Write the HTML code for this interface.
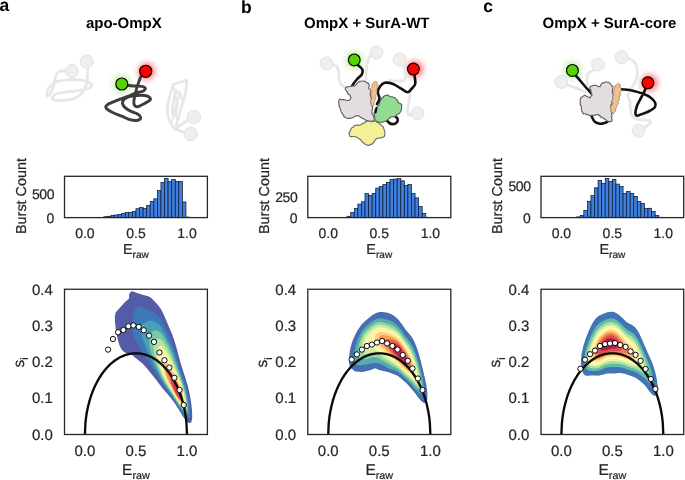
<!DOCTYPE html><html><head><meta charset="utf-8"><style>html,body{margin:0;padding:0;background:#fff}svg{display:block;will-change:transform;text-rendering:geometricPrecision} text.r{stroke:#262626;stroke-width:0.22px}</style></head><body>
<svg width="685" height="480" viewBox="0 0 685 480" font-family="'Liberation Sans', sans-serif">
<rect width="685" height="480" fill="#fff"/>
<defs>
<radialGradient id="gg"><stop offset="0" stop-color="#77dd33" stop-opacity="0.8"/><stop offset="0.5" stop-color="#aae888" stop-opacity="0.4"/><stop offset="1" stop-color="#e6f9dc" stop-opacity="0"/></radialGradient>
<radialGradient id="rg"><stop offset="0" stop-color="#ff2020" stop-opacity="0.9"/><stop offset="0.5" stop-color="#ff6060" stop-opacity="0.5"/><stop offset="1" stop-color="#ffd0d0" stop-opacity="0"/></radialGradient>
</defs>
<circle cx="121.8" cy="84.0" r="15" fill="url(#gg)"/>
<circle cx="146.5" cy="71.3" r="14" fill="url(#rg)"/>
<circle cx="354.25" cy="59.9" r="15" fill="url(#gg)"/>
<circle cx="414.9" cy="69.1" r="14" fill="url(#rg)"/>
<circle cx="572.4" cy="70.4" r="15" fill="url(#gg)"/>
<circle cx="649.4" cy="82.8" r="14" fill="url(#rg)"/>
<path d="M65.9,70.8C64.9,70.8 61.2,70.5 59.6,71.3C58.0,72.1 56.9,73.8 56.0,75.4C55.1,77.1 54.9,79.7 54.4,81.2C53.9,82.7 53.8,83.3 52.9,84.3C52.0,85.3 50.2,86.2 49.2,87.4C48.2,88.6 47.5,90.2 47.1,91.6C46.8,93.0 46.7,95.3 47.1,95.8C47.5,96.2 48.8,95.2 49.7,94.2C50.6,93.2 51.5,91.3 52.3,89.5C53.1,87.7 53.8,84.6 54.4,83.2C55.0,81.9 55.7,81.8 56.0,81.5" fill="none" stroke="#e7e7e7" stroke-width="2.8" stroke-linecap="round" stroke-linejoin="round"/>
<path d="M54.4,82.2C56.1,81.8 61.0,80.5 64.8,80.1C68.6,79.7 73.5,79.6 77.3,79.9C81.1,80.2 85.3,80.8 87.8,81.7C90.2,82.6 91.6,84.3 91.9,85.3C92.2,86.3 91.2,87.2 89.8,87.9C88.4,88.6 86.0,89.0 83.6,89.5C81.2,90.0 78.4,90.7 75.2,91.1C72.1,91.5 68.1,91.6 64.8,92.1C61.5,92.6 57.6,93.3 55.5,94.2C53.4,95.1 52.5,96.3 52.3,97.3C52.1,98.2 52.7,99.4 54.4,99.9C56.1,100.4 59.6,100.6 62.8,100.4C65.9,100.2 70.2,99.9 73.2,98.9C76.2,98.0 78.6,96.4 80.5,94.7C82.4,93.0 83.6,90.4 84.6,88.5C85.6,86.6 86.2,85.5 86.7,83.2C87.2,81.0 87.3,77.6 87.5,75.0C87.7,72.4 87.7,68.8 87.8,67.6" fill="none" stroke="#e7e7e7" stroke-width="2.8" stroke-linecap="round" stroke-linejoin="round"/>
<circle cx="71.9" cy="71.1" r="6.55" fill="#efefef" stroke="#e0e0e0" stroke-width="0.9"/>
<circle cx="86.7" cy="61.6" r="6.65" fill="#efefef" stroke="#e0e0e0" stroke-width="0.9"/>
<path d="M172.9,84.5C174.1,84.1 177.7,83.0 180.0,82.3C182.3,81.6 185.7,80.5 186.8,80.1" fill="none" stroke="#e7e7e7" stroke-width="2.8" stroke-linecap="round" stroke-linejoin="round"/>
<path d="M186.8,80.1C186.7,81.7 186.8,85.6 186.1,89.6C185.4,93.6 183.8,99.3 182.4,104.2C181.1,109.1 179.1,114.9 178.0,118.8C176.9,122.6 176.2,126.0 175.9,127.5" fill="none" stroke="#e7e7e7" stroke-width="2.8" stroke-linecap="round" stroke-linejoin="round"/>
<path d="M172.9,84.5C172.5,85.8 171.6,89.2 170.8,92.5C169.9,95.8 168.3,100.5 167.8,104.2C167.3,107.9 167.3,111.2 167.8,114.4C168.3,117.6 169.5,120.5 170.8,123.1C172.0,125.6 174.4,128.6 175.1,129.7" fill="none" stroke="#e7e7e7" stroke-width="2.8" stroke-linecap="round" stroke-linejoin="round"/>
<path d="M172.9,88.1C174.0,89.1 177.9,92.0 179.5,94.0C181.1,96.0 181.9,98.8 182.4,99.8" fill="none" stroke="#e7e7e7" stroke-width="2.8" stroke-linecap="round" stroke-linejoin="round"/>
<path d="M175.1,94.0C174.8,95.7 173.5,101.3 173.0,104.2C172.5,107.1 172.0,109.6 172.2,111.5C172.4,113.4 173.7,116.0 174.4,115.8C175.1,115.5 176.1,112.1 176.6,110.0C177.1,107.9 177.3,104.2 177.5,103.0" fill="none" stroke="#e7e7e7" stroke-width="2.8" stroke-linecap="round" stroke-linejoin="round"/>
<path d="M175.9,129.0C176.6,129.3 178.4,130.4 180.0,131.0C181.6,131.6 184.4,132.3 185.3,132.6" fill="none" stroke="#e7e7e7" stroke-width="2.8" stroke-linecap="round" stroke-linejoin="round"/>
<path d="M176.5,128.0C177.4,127.3 180.0,125.3 182.0,124.0C184.0,122.7 187.2,120.8 188.2,120.2" fill="none" stroke="#e7e7e7" stroke-width="2.8" stroke-linecap="round" stroke-linejoin="round"/>
<path d="M174.5,90.0C174.8,91.7 176.3,96.5 176.5,100.0C176.7,103.5 175.3,107.5 175.5,111.0C175.7,114.5 177.2,119.3 177.5,121.0" fill="none" stroke="#e7e7e7" stroke-width="1.8" stroke-linecap="round" stroke-linejoin="round"/>
<path d="M180.0,92.0C179.5,93.8 178.1,99.5 177.0,103.0C175.9,106.5 174.2,110.0 173.5,113.0C172.8,116.0 172.7,119.7 172.5,121.0" fill="none" stroke="#e7e7e7" stroke-width="1.8" stroke-linecap="round" stroke-linejoin="round"/>
<circle cx="193.8" cy="116.9" r="6.75" fill="#efefef" stroke="#e0e0e0" stroke-width="0.9"/>
<circle cx="190.7" cy="133.8" r="6.75" fill="#efefef" stroke="#e0e0e0" stroke-width="0.9"/>
<path d="M128.5,85.5C129.6,85.6 132.9,85.8 135.2,86.0C137.4,86.2 140.3,86.0 142.0,86.4C143.7,86.8 145.2,87.8 145.4,88.5C145.6,89.2 144.6,90.2 143.4,90.9C142.2,91.6 139.9,91.9 138.0,92.5C136.1,93.1 133.0,94.2 132.0,94.6" fill="none" stroke="#3d3d3d" stroke-width="2.9" stroke-linecap="round" stroke-linejoin="round"/>
<path d="M140.7,76.9C140.3,77.8 139.3,80.5 138.6,82.4C137.9,84.3 137.1,86.6 136.6,88.5C136.1,90.4 135.9,91.9 135.5,93.9C135.1,95.9 134.1,98.8 133.9,100.7C133.7,102.6 133.8,104.4 134.5,105.4C135.2,106.4 136.2,107.0 137.9,106.7C139.6,106.4 142.7,104.5 144.7,103.4C146.7,102.3 149.3,101.0 150.1,100.0C150.9,99.0 150.4,98.0 149.5,97.3C148.6,96.5 146.8,95.8 144.7,95.5C142.5,95.2 139.3,95.3 136.6,95.5C133.9,95.7 130.8,96.0 128.5,96.9C126.2,97.8 123.8,99.2 123.0,100.7C122.2,102.2 122.6,104.4 123.7,106.1C124.8,107.8 127.4,109.4 129.8,110.8C132.2,112.2 136.1,113.1 137.9,114.2C139.7,115.3 140.7,116.6 140.7,117.6C140.7,118.6 139.7,120.0 137.9,120.3C136.1,120.6 132.5,120.3 129.8,119.6C127.1,118.9 124.6,117.4 121.7,116.2C118.8,115.0 114.8,113.6 112.2,112.2C109.6,110.8 106.9,109.3 106.1,108.1C105.3,106.8 105.8,105.9 107.5,104.7C109.2,103.5 113.0,102.1 116.3,100.7C119.6,99.3 124.3,97.6 127.1,96.6C129.9,95.6 132.0,94.8 133.0,94.5" fill="none" stroke="#3d3d3d" stroke-width="2.9" stroke-linecap="round" stroke-linejoin="round"/>
<circle cx="121.8" cy="84.0" r="6.0" fill="#56d402" stroke="#000" stroke-width="1.2"/>
<circle cx="145.7" cy="71.3" r="6.05" fill="#ff0000" stroke="#000" stroke-width="1.2"/>
<path d="M333.0,65.1C333.6,65.3 335.8,65.2 336.8,66.4C337.7,67.6 338.2,69.8 338.6,72.0C339.0,74.2 338.8,77.4 339.2,79.5C339.7,81.6 340.2,83.2 341.1,84.5C342.0,85.8 344.3,86.6 344.9,87.0" fill="none" stroke="#e7e7e7" stroke-width="2.8" stroke-linecap="round" stroke-linejoin="round"/>
<path d="M370.5,55.8C370.1,56.6 368.7,58.9 368.0,60.8C367.3,62.6 366.8,64.8 366.5,67.0C366.2,69.2 366.1,71.8 366.0,74.0C365.9,76.2 366.0,79.0 366.0,80.0" fill="none" stroke="#e7e7e7" stroke-width="2.8" stroke-linecap="round" stroke-linejoin="round"/>
<path d="M403.5,65.3C403.9,66.9 405.8,72.2 405.8,74.7C405.8,77.2 405.2,79.4 403.5,80.5C401.8,81.6 397.6,81.1 395.3,81.1C393.0,81.1 390.5,80.6 389.5,80.5" fill="none" stroke="#e7e7e7" stroke-width="2.8" stroke-linecap="round" stroke-linejoin="round"/>
<path d="M410.3,93.2C410.1,94.5 409.4,98.1 409.0,100.7C408.6,103.3 407.9,106.7 407.8,109.0C407.7,111.3 407.6,113.8 408.2,114.8C408.9,115.8 411.4,114.8 412.0,114.8" fill="none" stroke="#e7e7e7" stroke-width="2.8" stroke-linecap="round" stroke-linejoin="round"/>
<circle cx="326.5" cy="63.5" r="6.55" fill="#efefef" stroke="#e0e0e0" stroke-width="0.9"/>
<circle cx="376.5" cy="52.6" r="6.55" fill="#efefef" stroke="#e0e0e0" stroke-width="0.9"/>
<circle cx="399.7" cy="59.5" r="6.65" fill="#efefef" stroke="#e0e0e0" stroke-width="0.9"/>
<circle cx="417.4" cy="113.2" r="6.45" fill="#efefef" stroke="#e0e0e0" stroke-width="0.9"/>
<path d="M358.0,65.1C358.7,65.8 361.8,67.9 362.4,69.5C363.0,71.1 362.7,72.8 361.8,74.5C360.8,76.2 358.2,77.8 356.8,79.5C355.3,81.2 353.9,83.1 353.0,84.5C352.1,85.9 351.8,87.4 351.5,88.0" fill="none" stroke="#111" stroke-width="2.6" stroke-linecap="round" stroke-linejoin="round"/>
<path d="M414.6,75.8C414.7,77.2 415.7,81.8 415.2,84.0C414.7,86.2 413.0,87.3 411.7,88.7C410.4,90.1 409.4,92.2 407.6,92.2C405.9,92.2 403.6,90.1 401.2,88.7C398.8,87.3 395.7,85.0 393.0,84.0C390.3,83.0 386.9,82.4 384.8,82.8C382.7,83.2 381.4,84.7 380.2,86.3C379.0,87.9 377.9,90.2 377.8,92.2C377.7,94.2 379.6,96.5 379.5,98.5C379.4,100.5 377.4,103.1 377.0,104.0" fill="none" stroke="#111" stroke-width="2.6" stroke-linecap="round" stroke-linejoin="round"/>
<path d="M387.0,120.6C387.5,121.1 388.9,122.9 390.0,123.5C391.1,124.1 392.6,124.2 393.8,124.0C395.0,123.8 396.5,122.9 397.1,122.0C397.7,121.1 397.8,119.6 397.6,118.7C397.4,117.8 396.0,117.1 395.7,116.8" fill="none" stroke="#111" stroke-width="2.6" stroke-linecap="round" stroke-linejoin="round"/>
<path d="M345.6,88.1L345.7,87.6L346.1,87.2L346.6,87.1L347.3,86.9L347.9,86.7L348.7,86.7L349.4,86.6L350.0,86.4L350.6,86.4L351.3,86.2L352.0,85.9L352.8,85.9L353.5,86.1L354.2,86.2L354.7,85.9L355.2,85.6L355.7,85.3L356.1,84.9L356.4,84.3L356.6,83.7L357.1,83.3L357.6,82.9L358.0,82.6L358.4,82.2L358.9,81.8L359.5,81.5L360.1,81.2L360.8,81.2L361.5,81.1L362.1,81.0L362.7,81.0L363.3,81.0L364.0,81.1L364.6,81.4L365.2,81.6L365.8,81.8L366.3,82.3L366.7,82.8L367.2,82.9L368.0,83.1L368.7,83.5L368.9,84.1L369.0,84.8L369.3,85.3L369.5,85.9L369.1,86.5L368.7,87.1L368.6,87.8L368.8,88.4L369.2,89.0L370.0,89.3L370.7,89.7L371.1,90.4L371.0,91.0L370.7,91.5L370.5,92.1L370.4,92.7L370.3,93.4L370.3,94.1L370.3,94.7L370.3,95.3L370.5,95.9L370.8,96.5L371.0,97.1L371.1,97.7L371.1,98.3L371.0,98.8L371.1,99.4L371.6,100.0L371.6,100.7L371.3,101.2L370.9,101.8L370.7,102.4L370.9,103.0L371.3,103.5L371.4,104.1L371.4,104.8L371.7,105.4L372.0,106.0L372.4,106.6L372.5,107.2L372.5,107.8L372.4,108.4L372.3,109.1L372.2,109.7L372.2,110.4L372.0,111.1L371.8,111.7L371.7,112.4L371.8,113.1L372.2,113.6L372.7,114.2L372.9,114.8L373.1,115.4L373.4,116.0L373.7,116.6L373.9,117.1L374.0,117.6L374.1,118.4L374.1,119.1L373.9,119.7L373.7,120.2L373.5,120.7L373.1,121.1L372.4,121.1L371.7,121.2L370.9,121.4L370.1,121.4L369.4,121.3L368.8,121.3L368.2,120.9L367.6,120.6L367.0,120.5L366.4,120.3L365.7,120.1L365.1,119.9L364.5,119.6L364.0,119.1L363.5,118.7L362.8,118.6L362.2,118.2L361.7,117.6L361.1,117.4L360.4,117.3L359.9,116.7L359.5,116.1L358.7,116.0L358.0,115.9L357.5,115.6L356.9,115.5L356.4,115.8L355.8,116.0L355.1,116.1L354.5,116.5L354.0,117.0L353.4,117.4L352.7,117.7L352.1,117.8L351.4,118.0L350.8,118.3L350.1,118.4L349.4,118.4L348.7,118.4L348.1,118.5L347.5,118.5L346.9,118.3L346.4,118.0L345.8,117.7L345.3,117.3L344.5,117.1L343.9,116.7L343.8,115.9L343.7,115.2L343.1,114.8L342.6,114.4L342.2,113.8L342.0,113.2L341.7,112.6L341.3,112.0L341.0,111.4L340.8,110.8L340.7,110.2L340.5,109.6L340.3,109.0L340.1,108.4L339.9,107.8L339.8,107.2L339.6,106.6L339.0,106.1L338.9,105.5L339.2,104.7L339.2,103.9L338.8,103.2L338.5,102.6L338.6,101.9L338.7,101.4L338.7,100.9L338.9,100.3L339.3,99.7L339.9,99.3L340.7,99.4L341.2,99.6L341.8,99.7L342.6,99.5L343.3,99.6L344.0,99.8L344.7,99.9L345.4,100.0L346.0,100.1L346.7,100.2L347.4,100.4L348.0,100.6L348.7,100.5L349.2,100.1L349.5,99.8L350.1,99.5L350.6,98.9L350.8,98.2L350.9,97.4L350.7,96.7L350.5,96.2L350.2,95.6L349.9,95.0L349.2,94.7L348.5,94.4L348.1,93.9L347.8,93.3L347.6,92.6L347.4,91.9L346.8,91.5L346.4,91.1L346.1,90.4L345.6,89.8L345.2,89.1L345.4,88.4Z" fill="#e3dedd" stroke="#5c5c5c" stroke-width="1.1" stroke-linejoin="round"/>
<path d="M349.5,132.7L349.5,132.3L349.7,131.8L350.1,131.3L350.2,130.6L350.5,129.9L351.0,129.3L351.2,128.6L351.5,128.0L352.0,127.7L352.7,127.5L353.3,127.2L353.5,126.5L353.9,126.0L354.4,125.7L355.0,125.4L355.5,125.3L356.1,125.2L356.8,125.1L357.4,125.0L358.1,125.1L358.8,125.3L359.4,125.3L360.0,125.1L360.5,124.9L361.1,124.7L361.5,124.3L362.0,123.8L362.5,123.4L363.1,123.2L363.8,123.1L364.3,122.8L364.7,122.2L365.2,121.9L365.9,121.9L366.5,121.7L367.0,121.4L367.5,121.0L368.1,121.0L368.7,121.1L369.4,121.2L370.1,121.2L370.8,121.3L371.4,121.7L372.0,121.8L372.7,121.5L373.3,121.4L373.9,121.1L374.5,120.9L375.1,121.0L375.7,121.2L376.2,121.3L376.8,121.5L377.3,122.0L377.7,122.5L378.2,122.9L378.8,123.3L379.3,123.7L379.9,124.1L380.4,124.3L380.9,124.8L381.3,125.3L381.7,125.7L382.2,126.1L382.8,126.4L383.1,126.9L383.4,127.4L383.8,128.0L383.8,128.7L384.0,129.4L384.3,130.0L384.5,130.7L384.7,131.3L384.9,132.0L384.8,132.7L384.8,133.4L385.0,134.1L384.8,134.8L384.6,135.4L384.5,136.1L384.2,136.6L383.5,136.9L382.9,137.1L382.2,137.3L381.6,137.7L380.9,138.0L380.2,137.8L379.6,137.9L379.0,138.1L378.3,138.2L377.7,138.2L377.0,138.3L376.4,138.6L376.0,139.0L375.8,139.6L375.3,140.0L374.9,140.4L374.5,141.0L374.2,141.6L374.0,142.2L373.5,142.5L373.0,143.0L372.6,143.6L372.1,144.1L371.4,144.3L370.8,144.4L370.3,144.6L369.9,145.1L369.3,145.4L368.7,145.4L368.0,145.3L367.3,145.1L366.7,145.0L366.1,144.7L365.6,144.4L365.0,144.1L364.4,143.8L364.0,143.3L363.6,142.7L362.9,142.6L362.4,142.3L362.1,141.7L361.7,141.2L361.3,140.7L361.0,140.2L360.6,139.7L360.1,139.4L359.5,139.1L359.0,138.7L358.5,138.4L358.0,138.0L357.5,137.7L356.9,137.4L356.4,137.1L355.8,136.8L355.1,136.8L354.4,136.8L353.7,136.6L353.1,136.4L352.5,136.6L351.7,136.6L351.0,136.5L350.4,136.6L349.9,136.2L349.8,135.5L349.5,134.8L349.1,134.1L348.9,133.5L349.0,133.3Z" fill="#f4f098" stroke="#666666" stroke-width="1.1" stroke-linejoin="round"/>
<path d="M382.5,97.8L382.9,97.4L383.3,96.7L383.8,96.2L384.4,95.9L385.1,95.7L385.8,95.4L386.4,95.2L387.0,95.1L387.7,95.0L388.4,95.2L388.9,95.7L389.4,96.2L390.1,96.6L390.9,96.7L391.5,96.7L392.1,96.8L392.8,97.0L393.4,97.3L394.1,97.5L394.7,97.6L395.2,98.2L395.6,98.7L396.1,98.9L396.7,99.2L397.0,99.8L397.3,100.4L397.6,100.9L398.0,101.4L398.3,101.9L398.4,102.6L398.9,103.1L399.7,103.3L400.4,103.6L400.9,104.0L401.5,104.5L401.8,105.2L401.7,105.9L401.5,106.5L401.6,107.2L401.7,108.0L401.4,108.7L401.3,109.4L401.3,110.1L401.0,110.7L400.7,111.3L400.3,111.9L400.0,112.5L399.7,113.1L399.1,113.5L398.5,113.8L398.0,114.1L397.4,114.5L396.9,114.8L396.4,115.2L395.9,115.7L395.4,116.1L394.8,116.5L394.3,116.8L393.6,116.9L392.9,116.7L392.2,116.7L391.6,116.9L391.0,117.1L390.5,117.4L390.0,117.7L389.4,118.1L389.0,118.7L388.3,119.1L387.8,119.5L387.5,120.1L387.0,120.6L386.3,120.8L385.7,121.0L385.1,121.3L384.5,121.5L383.9,121.7L383.2,122.0L382.6,122.2L382.0,122.2L381.4,122.3L380.7,122.3L380.1,122.2L379.5,122.3L378.9,122.1L378.5,121.8L377.8,121.8L377.1,121.8L376.4,121.6L376.0,121.0L375.7,120.3L375.3,119.7L375.1,119.2L375.0,118.6L374.8,117.9L374.6,117.2L374.5,116.5L374.2,115.9L374.2,115.2L374.5,114.5L374.3,113.9L374.0,113.2L374.2,112.6L374.5,112.0L374.7,111.5L374.8,110.8L374.9,110.2L375.1,109.6L375.6,109.1L375.9,108.5L376.2,107.9L376.6,107.3L377.1,106.9L377.6,106.4L378.0,105.8L378.5,105.3L378.9,104.8L379.1,104.2L379.3,103.6L379.6,103.1L379.8,102.5L380.0,101.9L380.1,101.3L380.3,100.7L380.7,100.2L381.1,99.7L381.3,99.1L381.5,98.6L381.9,98.1Z" fill="#92dc92" stroke="#5a5a5a" stroke-width="1.1" stroke-linejoin="round"/>
<path d="M371.3,88.4L371.6,87.8L371.7,87.2L371.9,86.5L371.9,85.8L371.7,85.1L372.1,84.6L372.7,84.2L372.8,83.6L372.9,83.1L373.5,82.5L374.1,82.1L374.6,81.9L375.1,81.6L375.9,81.5L376.7,81.9L377.1,82.8L377.0,83.3L377.2,83.7L377.7,84.2L377.9,84.9L377.8,85.6L377.8,86.3L377.6,86.9L377.1,87.4L376.8,88.0L376.9,88.7L377.0,89.4L376.9,90.1L377.0,90.9L377.0,91.5L376.6,92.1L376.8,92.8L377.2,93.5L376.9,94.2L376.0,94.7L375.6,95.3L375.8,96.0L376.0,96.7L375.9,97.3L375.9,98.0L375.8,98.6L375.7,99.3L375.5,99.8L375.0,100.4L374.8,100.9L374.6,101.4L374.4,101.9L374.2,102.7L374.0,103.4L374.0,104.1L374.3,104.8L373.9,105.3L373.6,105.7L372.9,106.1L372.1,106.2L371.3,105.8L371.1,105.2L371.0,104.5L370.9,103.7L371.1,103.0L370.9,102.6L370.6,101.9L370.7,101.3L370.9,100.7L371.2,100.1L371.5,99.5L371.5,98.8L371.7,98.2L372.1,97.5L371.9,96.8L371.6,96.2L371.5,95.5L371.3,94.9L371.1,94.2L370.9,93.6L370.7,92.9L371.1,92.3L371.2,91.7L371.0,91.0L370.8,90.3L370.7,89.6L370.7,88.9Z" fill="#f0c090" stroke="#8a7060" stroke-width="0.6" stroke-linejoin="round"/>
<path d="M376.5,108.0C376.3,108.8 375.7,111.8 375.5,112.5" fill="none" stroke="#111" stroke-width="2.2" stroke-linecap="round" stroke-linejoin="round"/>
<circle cx="354.25" cy="59.9" r="5.9" fill="#56d402" stroke="#000" stroke-width="1.2"/>
<circle cx="413.4" cy="69.1" r="5.9" fill="#ff0000" stroke="#000" stroke-width="1.2"/>
<path d="M566.8,85.1C567.6,85.3 570.1,85.9 572.0,86.5C573.9,87.1 575.8,88.0 578.0,88.9C580.2,89.8 584.2,91.5 585.5,92.0" fill="none" stroke="#e7e7e7" stroke-width="2.8" stroke-linecap="round" stroke-linejoin="round"/>
<path d="M593.0,70.8C592.3,71.1 589.6,71.3 588.6,72.6C587.6,73.8 587.0,76.3 586.8,78.2C586.5,80.2 587.3,83.5 587.4,84.5" fill="none" stroke="#e7e7e7" stroke-width="2.8" stroke-linecap="round" stroke-linejoin="round"/>
<path d="M627.6,57.8C628.6,58.4 632.3,59.9 633.9,61.5C635.5,63.1 636.5,65.3 637.0,67.7C637.5,70.1 637.4,73.4 637.0,76.0C636.6,78.6 635.4,81.0 634.4,83.3C633.4,85.6 631.9,87.5 630.8,89.6C629.6,91.7 627.8,94.1 627.6,95.8C627.4,97.5 629.3,97.9 629.7,99.6C630.1,101.3 629.9,103.2 630.2,105.8C630.6,108.4 630.5,112.9 631.8,115.2C633.1,117.5 635.6,118.6 638.0,119.4C640.4,120.2 644.3,119.6 646.4,119.9C648.5,120.2 650.1,120.7 650.5,121.5C650.9,122.3 649.7,123.6 648.5,124.6C647.3,125.6 644.1,127.2 643.2,127.7" fill="none" stroke="#e7e7e7" stroke-width="2.8" stroke-linecap="round" stroke-linejoin="round"/>
<circle cx="561.1" cy="82.0" r="6.45" fill="#efefef" stroke="#e0e0e0" stroke-width="0.9"/>
<circle cx="598.0" cy="64.5" r="6.45" fill="#efefef" stroke="#e0e0e0" stroke-width="0.9"/>
<circle cx="621.6" cy="57.3" r="6.55" fill="#efefef" stroke="#e0e0e0" stroke-width="0.9"/>
<circle cx="638.6" cy="130.8" r="6.45" fill="#efefef" stroke="#e0e0e0" stroke-width="0.9"/>
<path d="M576.1,75.8C577.2,77.1 580.5,81.1 583.0,84.0C585.5,86.9 589.8,91.7 591.1,93.2" fill="none" stroke="#111" stroke-width="2.6" stroke-linecap="round" stroke-linejoin="round"/>
<path d="M591.7,116.5C592.2,117.4 593.4,120.5 594.8,121.8C596.2,123.0 598.3,123.6 600.0,123.8C601.7,124.0 603.8,123.2 605.2,122.8C606.6,122.4 607.8,121.5 608.3,121.2" fill="none" stroke="#111" stroke-width="2.6" stroke-linecap="round" stroke-linejoin="round"/>
<path d="M590.7,86.4L591.1,86.2L591.7,86.2L592.2,85.7L592.8,85.6L593.5,85.6L594.2,85.2L594.8,85.1L595.4,85.4L596.1,85.5L596.8,85.7L597.4,86.2L597.9,86.7L598.5,86.8L598.9,86.5L599.4,86.5L600.2,86.6L600.7,86.0L600.7,85.2L601.1,84.6L601.4,83.9L601.8,83.4L602.4,83.0L603.2,82.9L603.9,82.9L604.5,82.7L605.0,82.2L605.6,82.0L606.2,81.9L606.8,82.1L607.5,82.3L608.1,82.3L608.8,82.6L609.3,82.9L609.9,83.3L610.4,83.8L610.7,84.3L611.1,84.8L611.5,85.3L611.9,85.8L612.5,86.2L612.9,86.7L613.0,87.4L612.9,88.0L612.8,88.6L612.5,89.2L612.4,89.9L612.5,90.6L612.6,91.3L612.4,92.0L612.1,92.6L612.5,93.3L613.1,93.7L613.3,94.3L613.2,94.9L613.2,95.6L613.1,96.2L612.9,96.7L613.0,97.2L613.3,97.8L613.1,98.4L612.8,99.0L612.8,99.6L612.7,100.3L612.3,100.8L612.0,101.4L611.7,101.9L612.0,102.7L612.2,103.5L611.8,104.1L611.5,104.6L610.8,105.2L610.4,105.8L611.0,106.6L611.4,107.2L611.3,107.8L611.0,108.5L611.2,109.1L611.6,109.7L611.5,110.5L611.3,111.2L611.5,111.8L611.7,112.4L611.6,113.1L611.5,113.7L611.6,114.4L611.9,115.1L611.9,115.8L611.9,116.5L611.7,117.1L611.4,117.6L611.6,118.4L611.9,119.0L612.2,119.6L612.2,120.2L611.9,120.7L611.7,121.2L611.0,121.6L610.2,121.6L609.4,121.5L609.0,121.4L608.3,121.5L607.6,121.4L607.1,120.8L606.6,120.2L605.9,119.9L605.3,119.5L604.9,119.1L604.2,118.9L603.7,118.5L603.2,118.1L602.6,117.7L602.2,117.2L601.4,117.1L600.6,117.1L600.2,116.7L600.1,115.7L599.6,115.3L598.8,115.4L598.3,115.1L597.9,114.5L597.2,114.5L596.4,114.8L595.8,115.1L595.3,115.2L594.7,115.0L594.1,115.1L593.6,115.5L592.9,115.5L592.2,115.2L591.5,115.3L590.9,115.6L590.3,115.7L589.6,115.6L589.0,115.2L588.6,114.7L587.9,114.6L587.2,114.8L586.6,114.7L586.1,114.3L585.6,114.0L585.1,113.8L584.4,113.8L583.6,113.9L583.0,113.6L582.9,113.0L582.7,112.4L582.2,112.0L581.8,111.5L581.7,110.8L582.0,110.1L581.7,109.4L581.3,108.9L581.3,108.2L581.3,107.6L581.4,106.9L581.4,106.2L580.8,105.7L580.2,105.1L580.2,104.5L580.2,103.8L580.3,103.2L580.4,102.6L580.2,102.0L580.2,101.3L580.2,100.6L580.3,100.0L580.4,99.4L580.4,98.7L580.5,98.1L580.9,97.7L581.3,97.3L581.9,97.1L582.4,96.8L582.9,96.4L583.5,96.0L584.1,95.5L584.7,95.3L585.4,95.6L586.0,95.9L586.6,96.2L587.3,96.5L588.0,96.9L588.7,97.3L589.2,97.4L589.6,97.7L590.2,97.7L590.6,97.1L590.8,96.4L591.3,95.8L591.8,95.2L592.1,94.7L592.0,94.1L591.5,93.6L591.2,93.0L591.2,92.3L591.0,91.7L590.8,91.1L590.9,90.5L590.8,89.8L590.5,89.2L590.0,88.5L589.8,87.9L589.8,87.2L590.3,86.7Z" fill="#e3dedd" stroke="#5c5c5c" stroke-width="1.1" stroke-linejoin="round"/>
<path d="M621.9,89.2C623.7,89.5 629.2,89.9 632.8,90.7C636.4,91.5 640.3,92.7 643.2,93.8C646.2,95.0 648.5,96.0 650.5,97.5C652.5,99.0 654.5,101.0 655.2,102.7C655.9,104.4 655.7,106.0 654.7,107.4C653.8,108.8 651.4,110.0 649.5,111.0C647.6,112.0 645.3,112.8 643.2,113.6C641.2,114.4 638.3,115.8 637.0,115.7C635.7,115.6 635.4,114.8 635.4,113.1C635.4,111.4 636.2,108.0 637.0,105.8C637.8,103.5 639.1,101.6 640.1,99.6C641.1,97.6 642.4,95.6 643.2,93.8C644.1,92.1 644.7,90.8 645.3,89.2C645.9,87.6 646.7,84.9 647.0,84.0" fill="none" stroke="#111" stroke-width="2.6" stroke-linecap="round" stroke-linejoin="round"/>
<path d="M616.2,85.0L616.9,84.9L617.4,84.5L617.9,83.5L618.6,83.2L619.3,84.3L619.7,84.6L620.3,84.6L620.4,85.3L620.3,86.0L620.1,86.7L620.6,87.5L621.1,87.9L620.9,88.4L621.0,89.0L621.1,89.7L621.1,90.4L621.0,91.0L620.6,91.7L620.3,92.3L620.1,92.9L620.1,93.5L620.7,94.3L620.6,95.0L620.2,95.6L620.0,96.2L619.3,96.7L619.1,97.3L619.2,98.1L619.1,98.8L619.4,99.5L619.3,100.2L618.4,100.6L617.9,101.1L618.0,101.9L618.4,102.7L618.7,103.6L618.4,104.1L617.7,104.6L616.9,104.9L616.5,105.5L616.8,106.4L616.7,107.0L616.1,107.5L616.2,108.1L616.1,108.8L615.6,109.2L615.5,110.0L615.7,110.8L615.3,111.5L614.5,112.0L614.0,112.5L613.9,113.1L613.8,113.6L612.9,113.9L612.6,113.3L612.5,113.3L611.8,113.6L611.7,113.1L611.9,112.5L611.4,111.9L610.9,111.3L611.0,110.6L611.4,109.9L611.1,109.3L610.9,108.6L610.9,108.0L610.4,107.2L610.3,106.5L611.2,106.0L612.0,105.4L612.3,104.8L612.8,104.2L613.0,103.6L612.4,102.8L612.1,102.0L612.0,101.3L612.0,100.6L612.5,100.0L612.9,99.4L613.3,98.8L613.1,98.2L612.6,97.5L612.9,96.8L613.2,96.2L613.4,95.6L613.2,94.9L613.0,94.2L613.2,93.6L613.2,92.9L613.3,92.3L613.2,91.5L613.2,90.9L613.9,90.3L614.6,89.8L614.4,89.1L614.4,88.5L614.9,88.0L614.8,87.2L614.7,86.3L615.0,85.6L615.6,85.3Z" fill="#f0c090" stroke="#8a7060" stroke-width="0.7" stroke-linejoin="round"/>
<circle cx="572.4" cy="70.4" r="5.9" fill="#56d402" stroke="#000" stroke-width="1.2"/>
<circle cx="647.9" cy="82.8" r="5.9" fill="#ff0000" stroke="#000" stroke-width="1.2"/>
<text x="-0.6" y="11.0" font-size="17.5" font-weight="bold" fill="#000">a</text>
<text x="123.80" y="28.20" font-size="15" text-anchor="middle" font-weight="bold" fill="#000" >apo-OmpX</text>
<g fill="#3f7fe0" stroke="#0d1a33" stroke-width="0.75"><rect x="103.80" y="216.75" width="3.57" height="0.85"/><rect x="107.37" y="216.30" width="3.57" height="1.30"/><rect x="110.94" y="215.40" width="3.57" height="2.20"/><rect x="114.52" y="215.00" width="3.57" height="2.60"/><rect x="118.09" y="214.40" width="3.57" height="3.20"/><rect x="121.66" y="213.50" width="3.57" height="4.10"/><rect x="125.23" y="212.60" width="3.57" height="5.00"/><rect x="128.81" y="212.60" width="3.57" height="5.00"/><rect x="132.38" y="211.60" width="3.57" height="6.00"/><rect x="135.95" y="208.70" width="3.57" height="8.90"/><rect x="139.52" y="207.60" width="3.57" height="10.00"/><rect x="143.09" y="208.60" width="3.57" height="9.00"/><rect x="146.67" y="205.30" width="3.57" height="12.30"/><rect x="150.24" y="201.40" width="3.57" height="16.20"/><rect x="153.81" y="198.80" width="3.57" height="18.80"/><rect x="157.38" y="190.60" width="3.57" height="27.00"/><rect x="160.96" y="182.50" width="3.57" height="35.10"/><rect x="164.53" y="178.30" width="3.57" height="39.30"/><rect x="168.10" y="181.70" width="3.57" height="35.90"/><rect x="171.68" y="179.40" width="3.57" height="38.20"/><rect x="175.25" y="181.50" width="3.57" height="36.10"/><rect x="178.82" y="181.50" width="3.57" height="36.10"/><rect x="182.39" y="202.00" width="3.57" height="15.60"/><rect x="185.97" y="217.10" width="3.57" height="0.50"/></g>
<rect x="64.50" y="176.30" width="142.90" height="41.30" fill="none" stroke="#262626" stroke-width="1.3"/>
<text class="r" x="54.30" y="222.70" font-size="14" text-anchor="end" font-weight="normal" fill="#262626" >0</text>
<text class="r" x="54.10" y="199.20" font-size="14" text-anchor="end" font-weight="normal" fill="#262626" letter-spacing="-0.4">500</text>
<text class="r" x="84.91" y="237.70" font-size="14" text-anchor="middle" font-weight="normal" fill="#262626" >0.0</text>
<text class="r" x="135.95" y="237.70" font-size="14" text-anchor="middle" font-weight="normal" fill="#262626" >0.5</text>
<text class="r" x="186.99" y="237.70" font-size="14" text-anchor="middle" font-weight="normal" fill="#262626" >1.0</text>
<text class="r" x="123.01" y="253.70" font-size="14.4" fill="#262626">E<tspan font-size="10.1" dy="4.5">raw</tspan></text>
<text class="r" transform="translate(25.60,196.0) rotate(-90)" font-size="14.4" text-anchor="middle" fill="#262626">Burst Count</text>
<text x="241.0" y="12.7" font-size="17.5" font-weight="bold" fill="#000">b</text>
<text x="366.80" y="28.20" font-size="15" text-anchor="middle" font-weight="bold" fill="#000" >OmpX + SurA-WT</text>
<g fill="#3f7fe0" stroke="#0d1a33" stroke-width="0.75"><rect x="347.12" y="216.30" width="3.58" height="1.30"/><rect x="350.70" y="212.60" width="3.58" height="5.00"/><rect x="354.28" y="208.60" width="3.58" height="9.00"/><rect x="357.85" y="204.10" width="3.58" height="13.50"/><rect x="361.43" y="201.80" width="3.58" height="15.80"/><rect x="365.00" y="193.60" width="3.58" height="24.00"/><rect x="368.58" y="195.60" width="3.58" height="22.00"/><rect x="372.15" y="193.40" width="3.58" height="24.20"/><rect x="375.73" y="188.10" width="3.58" height="29.50"/><rect x="379.30" y="186.60" width="3.58" height="31.00"/><rect x="382.88" y="184.60" width="3.58" height="33.00"/><rect x="386.45" y="182.40" width="3.58" height="35.20"/><rect x="390.03" y="179.60" width="3.58" height="38.00"/><rect x="393.60" y="179.10" width="3.58" height="38.50"/><rect x="397.18" y="178.60" width="3.58" height="39.00"/><rect x="400.75" y="180.80" width="3.58" height="36.80"/><rect x="404.33" y="185.60" width="3.58" height="32.00"/><rect x="407.90" y="184.60" width="3.58" height="33.00"/><rect x="411.48" y="193.60" width="3.58" height="24.00"/><rect x="415.05" y="197.90" width="3.58" height="19.70"/><rect x="418.62" y="206.60" width="3.58" height="11.00"/><rect x="422.20" y="213.40" width="3.58" height="4.20"/><rect x="425.78" y="217.30" width="3.58" height="0.30"/></g>
<rect x="307.80" y="176.30" width="143.00" height="41.30" fill="none" stroke="#262626" stroke-width="1.3"/>
<text class="r" x="297.60" y="222.80" font-size="14" text-anchor="end" font-weight="normal" fill="#262626" >0</text>
<text class="r" x="297.40" y="201.50" font-size="14" text-anchor="end" font-weight="normal" fill="#262626" letter-spacing="-0.4">250</text>
<text class="r" x="328.23" y="237.70" font-size="14" text-anchor="middle" font-weight="normal" fill="#262626" >0.0</text>
<text class="r" x="379.30" y="237.70" font-size="14" text-anchor="middle" font-weight="normal" fill="#262626" >0.5</text>
<text class="r" x="430.37" y="237.70" font-size="14" text-anchor="middle" font-weight="normal" fill="#262626" >1.0</text>
<text class="r" x="366.36" y="253.70" font-size="14.4" fill="#262626">E<tspan font-size="10.1" dy="4.5">raw</tspan></text>
<text class="r" transform="translate(268.90,196.0) rotate(-90)" font-size="14.4" text-anchor="middle" fill="#262626">Burst Count</text>
<text x="483.2" y="11.6" font-size="17.5" font-weight="bold" fill="#000">c</text>
<text x="609.50" y="28.20" font-size="15" text-anchor="middle" font-weight="bold" fill="#000" >OmpX + SurA-core</text>
<g fill="#3f7fe0" stroke="#0d1a33" stroke-width="0.75"><rect x="576.67" y="216.90" width="3.57" height="0.70"/><rect x="580.24" y="215.40" width="3.57" height="2.20"/><rect x="583.81" y="210.40" width="3.57" height="7.20"/><rect x="587.38" y="201.30" width="3.57" height="16.30"/><rect x="590.95" y="195.60" width="3.57" height="22.00"/><rect x="594.51" y="187.80" width="3.57" height="29.80"/><rect x="598.08" y="180.60" width="3.57" height="37.00"/><rect x="601.65" y="183.40" width="3.57" height="34.20"/><rect x="605.22" y="178.60" width="3.57" height="39.00"/><rect x="608.78" y="181.40" width="3.57" height="36.20"/><rect x="612.35" y="179.60" width="3.57" height="38.00"/><rect x="615.92" y="184.10" width="3.57" height="33.50"/><rect x="619.49" y="186.60" width="3.57" height="31.00"/><rect x="623.05" y="193.60" width="3.57" height="24.00"/><rect x="626.62" y="191.60" width="3.57" height="26.00"/><rect x="630.19" y="193.60" width="3.57" height="24.00"/><rect x="633.75" y="196.40" width="3.57" height="21.20"/><rect x="637.32" y="201.60" width="3.57" height="16.00"/><rect x="640.89" y="203.40" width="3.57" height="14.20"/><rect x="644.46" y="208.60" width="3.57" height="9.00"/><rect x="648.02" y="208.30" width="3.57" height="9.30"/><rect x="651.59" y="211.60" width="3.57" height="6.00"/><rect x="655.16" y="215.60" width="3.57" height="2.00"/><rect x="658.73" y="217.30" width="3.57" height="0.30"/></g>
<rect x="541.00" y="176.30" width="142.70" height="41.30" fill="none" stroke="#262626" stroke-width="1.3"/>
<text class="r" x="530.80" y="222.80" font-size="14" text-anchor="end" font-weight="normal" fill="#262626" >0</text>
<text class="r" x="530.60" y="191.30" font-size="14" text-anchor="end" font-weight="normal" fill="#262626" letter-spacing="-0.4">500</text>
<text class="r" x="561.39" y="237.70" font-size="14" text-anchor="middle" font-weight="normal" fill="#262626" >0.0</text>
<text class="r" x="612.35" y="237.70" font-size="14" text-anchor="middle" font-weight="normal" fill="#262626" >0.5</text>
<text class="r" x="663.31" y="237.70" font-size="14" text-anchor="middle" font-weight="normal" fill="#262626" >1.0</text>
<text class="r" x="599.41" y="253.70" font-size="14.4" fill="#262626">E<tspan font-size="10.1" dy="4.5">raw</tspan></text>
<text class="r" transform="translate(502.10,196.0) rotate(-90)" font-size="14.4" text-anchor="middle" fill="#262626">Burst Count</text>
<clipPath id="clip0"><polygon points="131.6,290.9 136.25,292.8 142.5,294.7 150.5,296.8 156,289.25 207.4,289.25 207.4,434.5 64.5,434.5 64.5,345 114.6,334 114.5,317.5 115.8,312.2 121,306.6 124.8,302.2 129.1,298.5 129.1,293.5"/></clipPath>
<g clip-path="url(#clip0)"><path fill="#545ca8" fill-rule="evenodd" d="M189.4,423.0L190.3,422.9L191.1,422.2L191.5,421.5L191.7,420.7L191.9,420.0L192.0,419.2L192.1,418.5L192.1,417.8L192.2,417.1L192.2,416.3L192.2,415.6L192.2,414.9L192.2,414.2L192.1,413.4L192.1,412.7L192.1,412.0L192.0,411.3L192.0,410.5L191.9,409.8L191.8,409.1L191.8,408.4L191.7,407.6L191.6,406.9L191.5,406.2L191.5,405.4L191.4,404.7L191.3,404.0L191.2,403.3L191.1,402.5L191.0,401.8L190.9,401.1L190.8,400.4L190.7,399.8L190.5,398.9L190.4,398.2L190.3,397.5L190.2,396.7L190.0,396.0L189.9,395.3L189.7,394.6L189.6,393.8L189.4,393.1L189.3,392.4L189.1,391.7L189.0,390.9L188.8,390.2L188.6,389.5L188.5,388.7L188.3,388.0L188.1,387.3L187.9,386.6L187.7,385.8L187.5,385.1L187.3,384.4L187.1,383.7L186.9,382.9L186.7,382.2L186.5,381.5L186.2,380.8L186.0,380.0L185.8,379.3L185.6,378.6L185.4,377.9L185.1,377.1L184.9,376.6L184.6,375.7L184.4,374.9L184.2,374.2L183.9,373.5L183.7,372.9L183.5,372.0L183.2,371.3L183.0,370.6L182.8,369.9L182.5,369.1L182.3,368.4L182.1,367.8L181.8,367.0L181.7,366.5L181.4,365.5L181.2,364.8L181.0,364.1L180.7,363.3L180.5,362.6L180.3,361.9L180.1,361.1L179.9,360.4L179.7,359.7L179.5,359.0L179.3,358.2L179.1,357.5L178.9,356.8L178.7,356.1L178.5,355.3L178.3,354.6L178.1,353.9L177.9,353.2L177.7,352.4L177.6,351.9L177.4,351.0L177.2,350.4L177.0,349.5L176.8,348.9L176.6,348.1L176.4,347.4L176.2,346.6L176.0,346.0L175.7,345.2L175.6,344.6L175.3,343.7L175.1,343.2L174.9,342.3L174.6,341.5L174.4,340.8L174.2,340.1L173.9,339.4L173.7,338.6L173.4,337.9L173.2,337.2L172.9,336.5L172.7,335.9L172.4,335.0L172.1,334.3L171.9,333.8L171.5,332.8L171.2,332.1L170.9,331.4L170.7,330.8L170.3,329.9L170.0,329.2L169.7,328.5L169.4,327.9L169.0,327.0L168.7,326.3L168.4,325.6L168.2,325.1L167.8,324.1L167.5,323.4L167.2,322.7L166.9,321.9L166.6,321.2L166.3,320.5L166.0,319.8L165.8,319.3L165.3,318.3L165.0,317.6L164.7,316.8L164.4,316.1L164.1,315.5L163.8,314.7L163.4,313.9L163.1,313.2L162.7,312.5L162.5,312.0L162.1,311.2L161.7,310.4L161.3,309.7L160.9,309.0L160.4,308.4L160.0,307.8L159.6,307.2L159.2,306.7L158.8,306.1L158.4,305.6L158.1,305.2L157.6,304.7L157.2,304.2L156.8,303.8L156.4,303.3L156.0,302.9L155.5,302.4L155.1,302.0L154.8,301.6L154.3,301.1L153.9,300.7L153.5,300.2L153.1,299.8L152.7,299.4L152.3,299.0L151.9,298.6L151.5,298.3L151.1,297.9L150.6,297.6L150.2,297.3L149.4,296.8L148.6,296.3L147.8,295.9L147.0,295.5L146.2,295.1L145.3,294.7L144.7,294.3L144.1,294.0L143.6,293.6L142.9,293.1L142.5,292.8L142.1,292.4L141.7,292.1L141.3,291.7L140.8,291.3L140.4,291.0L140.0,290.6L139.6,290.3L139.2,290.0L138.8,289.7L138.2,289.2L137.6,288.9L136.8,288.5L136.0,288.4L135.1,288.4L134.5,288.5L133.9,288.8L133.1,289.2L132.7,289.6L132.3,290.0L131.9,290.4L131.5,290.9L131.1,291.4L130.6,292.0L130.2,292.5L129.8,293.1L129.5,293.6L129.0,294.3L128.6,295.0L128.2,295.7L127.8,296.3L127.4,297.0L127.0,297.6L126.6,298.3L126.3,298.7L125.8,299.4L125.3,300.1L124.9,300.7L124.5,301.3L124.1,301.8L123.7,302.3L123.3,302.7L122.9,303.1L122.5,303.4L121.8,303.8L121.3,303.9L120.4,304.0L119.6,303.8L118.8,303.6L118.0,303.2L117.2,302.8L116.4,302.4L115.5,302.2L115.0,302.3L114.4,303.0L114.2,303.8L114.1,304.5L114.0,305.2L114.0,306.0L114.0,306.7L114.0,307.4L114.0,308.1L114.0,308.9L114.0,309.6L114.0,310.3L114.1,311.0L114.1,311.8L114.2,312.5L114.2,313.2L114.2,313.9L114.3,314.7L114.4,315.4L114.4,316.1L114.5,316.8L114.5,317.6L114.6,318.3L114.6,319.0L114.7,319.8L114.8,320.5L114.9,321.2L114.9,321.9L115.0,322.7L115.1,323.4L115.2,324.1L115.3,324.8L115.3,325.6L115.4,326.3L115.5,327.0L115.6,327.7L115.7,328.5L115.8,329.2L115.9,329.9L116.1,330.6L116.2,331.4L116.3,332.1L116.4,332.8L116.5,333.6L116.7,334.3L116.8,335.0L117.0,335.7L117.1,336.5L117.3,337.2L117.4,337.9L117.6,338.6L117.8,339.4L117.9,340.1L118.1,340.8L118.3,341.5L118.5,342.3L118.8,343.0L119.0,343.7L119.2,344.4L119.5,345.2L119.8,345.9L120.0,346.4L120.4,347.3L120.8,348.1L121.2,348.8L121.7,349.4L122.1,350.0L122.5,350.5L122.9,350.9L123.3,351.3L123.7,351.6L124.1,351.9L124.9,352.4L125.7,352.8L126.6,353.1L127.4,353.4L128.2,353.6L129.0,353.9L129.8,354.1L130.6,354.5L131.5,354.9L132.2,355.3L132.7,355.6L133.3,356.1L133.9,356.5L134.3,356.8L134.7,357.2L135.1,357.5L135.5,357.9L136.0,358.2L136.4,358.5L136.8,358.9L137.2,359.2L137.6,359.6L138.0,359.9L138.4,360.2L138.8,360.5L139.2,360.9L139.6,361.2L140.0,361.5L140.4,361.8L140.8,362.2L141.3,362.5L141.7,362.9L142.1,363.2L142.5,363.6L142.9,364.0L143.3,364.4L143.7,364.8L144.1,365.2L144.5,365.7L144.9,366.1L145.3,366.6L145.7,367.1L146.2,367.6L146.6,368.1L147.0,368.6L147.4,369.1L147.8,369.6L148.2,370.1L148.6,370.6L149.0,371.1L149.4,371.6L149.8,372.0L150.2,372.6L150.6,373.1L151.0,373.5L151.5,374.1L151.9,374.6L152.2,374.9L152.7,375.5L153.1,376.0L153.4,376.4L153.9,377.0L154.3,377.5L154.7,378.0L155.1,378.5L155.5,379.0L156.0,379.6L156.3,380.0L156.8,380.6L157.2,381.2L157.6,381.7L157.9,382.2L158.4,382.8L158.8,383.4L159.2,383.9L159.6,384.4L160.0,385.0L160.4,385.6L160.9,386.1L161.2,386.6L161.7,387.2L162.1,387.7L162.5,388.2L162.9,388.7L163.3,389.2L163.7,389.7L164.1,390.1L164.5,390.6L164.9,391.1L165.3,391.6L165.8,392.0L166.2,392.5L166.6,392.9L167.0,393.4L167.4,393.8L167.8,394.3L168.2,394.8L168.6,395.3L169.0,395.8L169.4,396.3L169.8,396.7L170.2,397.3L170.7,397.8L171.0,398.2L171.5,398.8L171.9,399.4L172.3,399.9L172.6,400.4L173.1,401.0L173.5,401.6L173.9,402.2L174.3,402.8L174.7,403.3L175.1,403.9L175.6,404.6L176.0,405.2L176.4,405.8L176.8,406.4L177.1,406.9L177.6,407.6L178.0,408.3L178.4,409.0L178.8,409.6L179.2,410.3L179.6,411.0L180.0,411.7L180.5,412.3L180.9,413.0L181.1,413.4L181.6,414.2L182.0,414.9L182.5,415.6L182.9,416.3L183.3,416.9L183.7,417.5L184.1,418.1L184.4,418.5L184.9,419.2L185.4,419.7L185.8,420.2L186.2,420.7L186.6,421.1L187.0,421.5L187.4,421.9L187.8,422.2L188.2,422.5L189.0,422.9Z"/><path fill="#3d79b6" fill-rule="evenodd" d="M186.6,417.8L187.4,418.3L188.2,418.4L189.0,418.1L189.4,417.5L189.7,417.1L189.8,416.5L190.0,415.6L190.1,414.9L190.2,414.2L190.2,413.4L190.2,412.7L190.2,412.0L190.2,411.3L190.2,410.5L190.2,409.8L190.1,409.1L190.1,408.4L190.0,407.6L189.9,406.9L189.9,406.2L189.8,405.4L189.7,404.7L189.6,404.0L189.5,403.3L189.4,402.7L189.3,401.8L189.2,401.1L189.1,400.4L189.0,399.6L188.9,398.9L188.7,398.2L188.6,397.6L188.5,396.7L188.3,396.0L188.2,395.5L188.0,394.6L187.9,393.8L187.7,393.1L187.6,392.4L187.4,391.7L187.2,390.9L187.0,390.2L186.9,389.5L186.7,388.7L186.5,388.0L186.3,387.3L186.1,386.6L185.9,385.8L185.7,385.1L185.5,384.4L185.3,383.7L185.0,382.9L184.8,382.2L184.6,381.5L184.4,380.8L184.1,380.1L183.9,379.3L183.7,378.8L183.4,377.9L183.2,377.1L182.9,376.4L182.7,375.7L182.5,375.2L182.2,374.2L181.9,373.5L181.7,372.8L181.4,372.0L181.3,371.5L181.0,370.6L180.7,369.9L180.5,369.1L180.2,368.4L180.0,367.8L179.8,367.0L179.5,366.2L179.3,365.5L179.1,364.8L178.9,364.1L178.6,363.3L178.4,362.6L178.2,361.9L178.0,361.3L177.8,360.4L177.6,359.9L177.3,359.0L177.1,358.2L176.9,357.5L176.7,356.8L176.4,356.1L176.2,355.3L176.0,354.6L175.8,353.9L175.6,353.2L175.3,352.4L175.1,351.8L174.9,351.0L174.6,350.3L174.4,349.5L174.2,348.8L173.9,348.1L173.7,347.3L173.4,346.6L173.2,345.9L172.9,345.2L172.7,344.7L172.3,343.7L172.1,343.0L171.8,342.3L171.5,341.5L171.2,340.8L170.9,340.1L170.7,339.6L170.3,338.6L169.9,337.9L169.6,337.2L169.3,336.5L169.0,335.9L168.6,335.0L168.3,334.3L168.0,333.6L167.6,332.8L167.4,332.3L167.0,331.4L166.6,330.6L166.3,329.9L166.0,329.2L165.8,328.7L165.3,327.8L165.0,327.0L164.6,326.3L164.3,325.6L164.0,324.8L163.7,324.3L163.3,323.5L162.9,322.7L162.5,322.0L162.1,321.3L161.7,320.6L161.3,319.9L160.9,319.3L160.4,318.7L160.1,318.3L159.6,317.6L159.2,317.2L158.8,316.7L158.4,316.3L158.0,315.9L157.6,315.5L157.2,315.1L156.8,314.8L156.4,314.4L156.0,314.1L155.5,313.7L155.1,313.4L154.7,313.1L154.3,312.8L153.9,312.5L153.5,312.2L153.1,311.9L152.3,311.3L151.8,311.0L151.1,310.6L150.5,310.3L149.8,310.0L149.0,309.7L148.5,309.6L147.8,309.4L147.0,309.2L146.2,309.0L145.3,308.7L144.5,308.4L144.0,308.1L143.3,307.8L142.7,307.4L142.1,307.1L141.3,306.7L140.4,306.3L139.6,306.1L138.8,306.0L138.0,306.3L137.3,306.7L136.8,307.1L136.4,307.6L136.0,308.1L135.6,308.9L135.2,309.6L134.9,310.3L134.6,311.0L134.3,311.8L134.1,312.5L133.9,313.2L133.7,313.9L133.5,314.6L133.3,315.4L133.1,316.1L133.0,316.8L132.8,317.6L132.7,318.3L132.6,319.0L132.4,319.8L132.3,320.5L132.2,321.2L132.1,321.9L132.0,322.7L132.0,323.4L131.9,324.1L131.9,324.8L131.9,325.6L131.9,326.3L131.9,327.0L131.9,327.7L132.0,328.5L132.1,329.2L132.2,329.9L132.3,330.5L132.4,331.4L132.6,332.1L132.8,332.8L132.9,333.6L133.1,334.1L133.4,335.0L133.6,335.7L133.8,336.5L134.1,337.2L134.3,337.7L134.7,338.6L135.0,339.4L135.3,340.1L135.5,340.7L136.0,341.5L136.3,342.3L136.7,343.0L137.1,343.7L137.5,344.4L137.9,345.2L138.4,345.9L138.8,346.5L139.2,347.1L139.6,347.7L140.0,348.3L140.4,348.8L140.8,349.4L141.3,349.9L141.7,350.5L142.0,351.0L142.5,351.6L142.9,352.2L143.3,352.7L143.7,353.3L144.1,353.9L144.5,354.6L144.9,355.2L145.3,355.9L145.7,356.6L146.2,357.3L146.6,358.0L147.0,358.7L147.4,359.4L147.8,360.1L148.2,360.8L148.6,361.6L149.0,362.3L149.4,363.0L149.8,363.7L150.2,364.4L150.6,365.0L150.9,365.5L151.4,366.2L151.8,367.0L152.3,367.7L152.7,368.4L153.1,369.1L153.5,369.7L153.9,370.4L154.3,371.0L154.7,371.7L155.1,372.4L155.5,373.0L155.8,373.5L156.3,374.2L156.7,374.9L157.2,375.7L157.6,376.4L158.0,377.1L158.4,377.7L158.8,378.4L159.2,379.1L159.6,379.7L160.0,380.4L160.4,381.0L160.7,381.5L161.2,382.2L161.7,382.9L162.1,383.6L162.5,384.2L162.9,384.8L163.3,385.4L163.7,385.8L164.1,386.5L164.5,387.1L164.9,387.6L165.3,388.2L165.8,388.7L166.2,389.3L166.6,389.8L167.0,390.3L167.4,390.9L167.8,391.4L168.2,392.0L168.5,392.4L169.0,393.0L169.4,393.6L169.8,394.2L170.1,394.6L170.7,395.3L171.1,395.8L171.5,396.4L171.9,397.0L172.2,397.5L172.7,398.2L173.1,398.8L173.5,399.4L173.9,400.0L174.3,400.6L174.7,401.1L175.1,401.8L175.6,402.4L176.0,403.0L176.4,403.7L176.8,404.3L177.1,404.7L177.5,405.4L178.0,406.1L178.4,406.8L178.8,407.4L179.2,408.1L179.6,408.7L180.0,409.3L180.4,409.8L180.8,410.5L181.3,411.2L181.7,411.8L182.1,412.5L182.5,413.1L182.9,413.6L183.3,414.2L183.7,414.8L184.1,415.3L184.5,415.8L184.9,416.3L185.4,416.7L185.8,417.1L186.2,417.5L186.6,417.8Z"/><path fill="#47a0b3" fill-rule="evenodd" d="M186.2,415.0L187.0,415.3L187.8,415.0L188.2,414.4L188.6,413.4L188.7,412.7L188.8,412.0L188.9,411.3L188.9,410.5L188.9,409.8L188.9,409.1L188.8,408.4L188.8,407.6L188.8,406.9L188.7,406.2L188.6,405.5L188.5,404.7L188.5,404.0L188.4,403.3L188.3,402.5L188.2,401.8L188.1,401.1L188.0,400.4L187.8,399.6L187.7,398.9L187.6,398.2L187.5,397.5L187.3,396.7L187.2,396.0L187.0,395.3L186.9,394.6L186.7,393.8L186.6,393.2L186.4,392.4L186.2,391.7L186.0,390.9L185.9,390.2L185.7,389.5L185.5,388.7L185.3,388.0L185.1,387.3L184.9,386.6L184.6,385.8L184.4,385.1L184.2,384.4L184.0,383.7L183.8,382.9L183.5,382.2L183.3,381.6L183.0,380.8L182.8,380.0L182.6,379.3L182.3,378.6L182.1,378.0L181.8,377.1L181.6,376.4L181.3,375.7L181.0,374.9L180.9,374.4L180.5,373.5L180.3,372.8L180.0,372.1L179.8,371.3L179.5,370.6L179.3,369.9L179.0,369.1L178.8,368.5L178.5,367.7L178.3,367.0L178.0,366.2L177.8,365.5L177.6,364.9L177.3,364.1L177.1,363.3L176.8,362.6L176.6,361.9L176.4,361.2L176.1,360.4L176.0,359.9L175.7,359.0L175.4,358.2L175.2,357.5L174.9,356.8L174.7,356.2L174.4,355.3L174.2,354.6L173.9,353.9L173.7,353.2L173.4,352.4L173.1,351.7L172.9,351.0L172.6,350.3L172.3,349.5L172.0,348.8L171.7,348.1L171.5,347.4L171.1,346.6L170.8,345.9L170.5,345.2L170.2,344.6L169.9,343.7L169.5,343.0L169.2,342.3L168.8,341.5L168.6,341.0L168.2,340.2L167.8,339.4L167.5,338.6L167.1,337.9L166.8,337.2L166.4,336.5L166.2,335.9L165.8,335.1L165.4,334.3L165.0,333.6L164.6,332.8L164.3,332.1L163.9,331.4L163.5,330.6L163.1,329.9L162.6,329.2L162.2,328.5L161.7,327.7L161.3,327.1L160.9,326.5L160.4,326.0L160.1,325.6L159.6,325.1L159.2,324.7L158.8,324.3L158.4,324.0L158.0,323.7L157.2,323.1L156.4,322.7L156.0,322.4L155.1,322.0L154.3,321.7L153.5,321.4L152.7,321.1L151.9,320.9L151.1,320.8L150.2,320.8L149.4,320.9L148.6,321.1L147.8,321.4L147.0,321.7L146.2,322.1L145.3,322.4L144.8,322.7L144.1,323.0L143.3,323.4L142.5,324.0L142.1,324.4L141.8,324.8L141.4,325.6L141.1,326.3L141.0,327.0L140.9,327.7L140.8,328.5L140.8,329.2L140.8,329.9L140.8,330.6L140.9,331.4L141.0,332.1L141.1,332.8L141.3,333.5L141.4,334.3L141.6,335.0L141.8,335.7L142.0,336.5L142.3,337.2L142.5,337.8L142.8,338.6L143.1,339.4L143.3,340.0L143.6,340.8L143.9,341.5L144.1,342.2L144.4,343.0L144.7,343.7L144.9,344.3L145.3,345.2L145.5,345.9L145.7,346.4L146.1,347.3L146.4,348.1L146.6,348.6L146.9,349.5L147.2,350.3L147.5,351.0L147.8,351.7L148.1,352.4L148.3,353.2L148.6,353.8L148.9,354.6L149.2,355.3L149.5,356.1L149.8,356.7L150.2,357.5L150.5,358.2L150.8,359.0L151.1,359.5L151.5,360.4L151.8,361.1L152.2,361.9L152.5,362.6L152.9,363.3L153.2,364.1L153.5,364.6L153.9,365.4L154.3,366.2L154.7,367.0L155.1,367.7L155.4,368.4L155.8,369.1L156.2,369.9L156.6,370.6L156.9,371.3L157.2,371.8L157.6,372.5L158.0,373.3L158.4,374.1L158.8,374.9L159.2,375.6L159.6,376.4L160.0,377.1L160.4,377.9L160.8,378.6L161.3,379.3L161.7,380.0L162.1,380.7L162.5,381.4L162.9,382.1L163.3,382.7L163.7,383.4L164.1,384.0L164.5,384.7L164.8,385.1L165.3,385.8L165.8,386.5L166.2,387.1L166.6,387.7L167.0,388.3L167.3,388.7L167.8,389.4L168.2,390.0L168.6,390.6L169.0,391.2L169.3,391.7L169.8,392.4L170.2,393.0L170.7,393.6L171.1,394.2L171.5,394.8L171.8,395.3L172.3,396.0L172.7,396.6L173.1,397.2L173.5,397.8L173.9,398.4L174.2,398.9L174.7,399.6L175.1,400.3L175.6,400.9L176.0,401.6L176.4,402.2L176.8,402.8L177.1,403.3L177.6,404.0L178.0,404.7L178.4,405.3L178.8,405.9L179.2,406.5L179.6,407.2L180.0,407.6L180.4,408.4L180.9,409.0L181.3,409.6L181.7,410.2L182.1,410.7L182.5,411.3L182.9,411.8L183.3,412.3L183.7,412.8L184.1,413.3L184.5,413.7L184.9,414.1L185.4,414.5L185.8,414.8Z"/><path fill="#79c9a5" fill-rule="evenodd" d="M184.9,412.2L185.8,412.6L186.6,412.5L187.0,412.1L187.4,411.3L187.6,410.5L187.7,409.8L187.7,409.1L187.7,408.4L187.7,407.6L187.7,406.9L187.7,406.2L187.6,405.4L187.6,404.7L187.5,404.0L187.4,403.3L187.3,402.5L187.2,401.8L187.1,401.1L187.0,400.4L186.9,399.6L186.8,398.9L186.6,398.2L186.5,397.5L186.4,396.7L186.2,396.0L186.1,395.3L185.9,394.6L185.8,393.9L185.6,393.1L185.4,392.4L185.2,391.7L185.1,390.9L184.9,390.2L184.7,389.5L184.5,388.7L184.3,388.0L184.0,387.3L183.8,386.6L183.6,385.8L183.4,385.1L183.2,384.4L182.9,383.7L182.7,382.9L182.5,382.4L182.2,381.5L181.9,380.8L181.7,380.0L181.4,379.3L181.2,378.6L180.9,377.9L180.6,377.1L180.5,376.6L180.1,375.7L179.8,374.9L179.6,374.4L179.3,373.5L179.0,372.8L178.8,372.2L178.5,371.3L178.2,370.6L178.0,369.9L177.7,369.1L177.5,368.4L177.2,367.7L176.9,367.0L176.7,366.2L176.4,365.5L176.2,364.8L176.0,364.2L175.7,363.3L175.4,362.6L175.1,361.9L174.9,361.1L174.6,360.4L174.3,359.7L174.1,359.0L173.8,358.2L173.5,357.5L173.3,356.8L173.0,356.1L172.7,355.3L172.4,354.6L172.1,353.9L171.9,353.3L171.5,352.4L171.2,351.7L170.9,351.0L170.7,350.5L170.2,349.6L169.9,348.8L169.6,348.1L169.2,347.3L168.9,346.6L168.6,346.1L168.2,345.3L167.8,344.5L167.4,343.7L167.1,343.0L166.7,342.3L166.3,341.5L165.9,340.8L165.5,340.1L165.2,339.4L164.8,338.6L164.3,337.9L163.9,337.2L163.5,336.5L163.0,335.7L162.6,335.0L162.1,334.3L161.7,333.8L161.3,333.3L160.9,332.8L160.4,332.4L160.0,332.0L159.6,331.7L159.2,331.4L158.4,330.9L157.8,330.6L157.2,330.5L156.4,330.3L155.5,330.3L154.7,330.4L153.9,330.6L153.1,330.9L152.4,331.4L151.9,331.9L151.5,332.3L151.1,332.8L150.7,333.6L150.3,334.3L150.1,335.0L149.9,335.7L149.7,336.5L149.5,337.2L149.4,337.9L149.4,338.6L149.3,339.4L149.3,340.1L149.3,340.8L149.3,341.5L149.3,342.3L149.4,343.0L149.4,343.7L149.5,344.4L149.6,345.2L149.7,345.9L149.8,346.6L150.0,347.3L150.1,348.1L150.2,348.7L150.4,349.5L150.6,350.3L150.8,351.0L151.0,351.7L151.2,352.4L151.4,353.2L151.6,353.9L151.9,354.6L152.1,355.3L152.3,355.9L152.6,356.8L152.9,357.5L153.1,358.2L153.4,359.0L153.7,359.7L153.9,360.3L154.2,361.1L154.5,361.9L154.7,362.4L155.1,363.3L155.4,364.1L155.7,364.8L156.0,365.3L156.4,366.2L156.7,367.0L157.0,367.7L157.3,368.4L157.6,369.0L158.0,369.9L158.3,370.6L158.6,371.3L159.0,372.0L159.2,372.5L159.6,373.4L160.0,374.2L160.4,374.9L160.7,375.7L161.1,376.4L161.5,377.1L161.9,377.9L162.2,378.6L162.5,379.0L162.9,379.8L163.3,380.5L163.7,381.2L164.1,381.9L164.5,382.6L164.9,383.3L165.3,383.9L165.6,384.4L166.1,385.1L166.6,385.8L167.0,386.5L167.4,387.1L167.8,387.7L168.2,388.4L168.6,389.0L168.9,389.5L169.4,390.2L169.8,390.8L170.2,391.5L170.7,392.1L171.1,392.7L171.5,393.3L171.8,393.8L172.3,394.6L172.7,395.2L173.1,395.9L173.5,396.5L173.9,397.1L174.3,397.8L174.7,398.4L175.1,398.9L175.5,399.6L176.0,400.3L176.4,401.0L176.8,401.6L177.2,402.2L177.6,402.8L177.9,403.3L178.4,404.0L178.8,404.7L179.2,405.3L179.6,405.9L180.0,406.5L180.4,406.9L180.9,407.6L181.3,408.2L181.7,408.7L182.1,409.3L182.5,409.8L182.9,410.3L183.3,410.7L183.7,411.2L184.1,411.5L184.5,411.9L184.9,412.2Z"/><path fill="#b8e2a1" fill-rule="evenodd" d="M184.5,410.0L185.4,410.1L185.8,409.8L186.2,409.3L186.5,408.4L186.6,407.6L186.6,406.9L186.6,406.2L186.6,405.4L186.6,404.7L186.5,404.0L186.5,403.3L186.4,402.5L186.3,401.8L186.2,401.1L186.1,400.4L186.0,399.6L185.9,398.9L185.8,398.3L185.6,397.5L185.5,396.7L185.4,396.1L185.2,395.3L185.0,394.6L184.8,393.8L184.7,393.1L184.5,392.6L184.3,391.7L184.1,391.0L183.9,390.2L183.7,389.5L183.5,388.7L183.3,388.1L183.1,387.3L182.9,386.8L182.6,385.8L182.4,385.1L182.1,384.4L181.9,383.7L181.7,383.1L181.4,382.2L181.1,381.5L180.9,380.8L180.6,380.0L180.3,379.3L180.0,378.6L179.8,377.9L179.5,377.1L179.2,376.5L178.9,375.7L178.6,374.9L178.4,374.4L178.1,373.5L177.8,372.8L177.6,372.3L177.2,371.3L176.9,370.6L176.7,369.9L176.4,369.1L176.1,368.4L175.8,367.7L175.6,367.0L175.3,366.2L175.0,365.5L174.7,364.9L174.4,364.1L174.1,363.3L173.9,362.8L173.5,361.9L173.2,361.1L172.9,360.4L172.7,359.8L172.3,359.0L172.0,358.2L171.7,357.5L171.5,357.0L171.1,356.1L170.7,355.3L170.4,354.6L170.1,353.9L169.7,353.2L169.4,352.6L169.0,351.8L168.6,351.0L168.2,350.3L167.9,349.5L167.5,348.8L167.1,348.1L166.7,347.3L166.3,346.6L165.9,345.9L165.4,345.2L165.0,344.4L164.6,343.7L164.1,343.0L163.7,342.4L163.3,341.9L162.9,341.3L162.5,340.8L162.1,340.4L161.7,339.9L161.3,339.6L160.9,339.3L160.0,338.8L159.2,338.5L158.4,338.4L157.6,338.6L156.8,339.1L156.4,339.5L156.0,339.9L155.5,340.5L155.1,341.2L154.7,342.2L154.5,343.0L154.3,343.5L154.1,344.4L154.0,345.2L153.9,345.9L153.9,346.6L153.8,347.3L153.8,348.1L153.8,348.8L153.9,349.5L153.9,350.3L154.0,351.0L154.1,351.7L154.2,352.4L154.3,353.2L154.4,353.9L154.5,354.6L154.7,355.3L154.9,356.1L155.1,356.8L155.2,357.5L155.4,358.2L155.6,359.0L155.9,359.7L156.1,360.4L156.3,361.1L156.5,361.9L156.8,362.5L157.0,363.3L157.3,364.1L157.6,364.8L157.8,365.5L158.1,366.2L158.4,367.0L158.6,367.7L158.9,368.4L159.2,369.1L159.5,369.9L159.8,370.6L160.0,371.1L160.4,372.0L160.7,372.8L161.1,373.5L161.3,374.0L161.7,374.9L162.1,375.7L162.4,376.4L162.7,377.1L163.1,377.9L163.5,378.6L163.9,379.3L164.1,379.8L164.5,380.5L164.9,381.3L165.3,382.0L165.8,382.7L166.2,383.4L166.6,384.1L167.0,384.8L167.4,385.4L167.8,386.1L168.1,386.6L168.6,387.3L169.0,388.0L169.4,388.7L169.8,389.3L170.2,390.0L170.7,390.6L171.1,391.3L171.5,391.9L171.7,392.4L172.2,393.1L172.6,393.8L173.1,394.6L173.5,395.2L173.9,395.9L174.3,396.5L174.7,397.2L175.1,397.8L175.6,398.5L175.8,398.9L176.3,399.6L176.8,400.4L177.2,401.0L177.6,401.7L178.0,402.3L178.4,402.9L178.8,403.5L179.2,404.0L179.6,404.6L180.0,405.2L180.5,405.8L180.8,406.2L181.3,406.8L181.7,407.4L182.1,407.8L182.5,408.3L182.9,408.7L183.3,409.1L183.7,409.5L184.2,409.8Z"/><path fill="#edf8a3" fill-rule="evenodd" d="M183.7,407.8L184.5,407.9L185.0,407.6L185.4,407.0L185.5,406.2L185.6,405.4L185.6,404.7L185.6,404.0L185.6,403.3L185.6,402.5L185.5,401.8L185.4,401.1L185.3,400.4L185.2,399.6L185.1,398.9L184.9,398.2L184.8,397.5L184.7,396.7L184.5,396.1L184.4,395.3L184.2,394.6L184.0,393.8L183.9,393.1L183.7,392.6L183.5,391.7L183.3,391.0L183.1,390.2L182.9,389.6L182.6,388.7L182.4,388.0L182.2,387.3L181.9,386.6L181.7,385.8L181.5,385.1L181.3,384.6L180.9,383.7L180.7,382.9L180.5,382.4L180.1,381.5L179.8,380.8L179.6,380.2L179.3,379.3L179.0,378.6L178.7,377.9L178.4,377.2L178.1,376.4L177.8,375.7L177.5,374.9L177.2,374.3L176.9,373.5L176.6,372.8L176.4,372.3L176.0,371.3L175.6,370.6L175.3,369.9L175.1,369.4L174.7,368.4L174.4,367.7L174.1,367.0L173.8,366.2L173.5,365.6L173.2,364.8L172.8,364.1L172.5,363.3L172.3,362.8L171.9,362.0L171.5,361.1L171.2,360.4L170.8,359.7L170.5,359.0L170.1,358.2L169.8,357.7L169.4,356.9L169.0,356.2L168.6,355.4L168.2,354.6L167.8,353.9L167.4,353.2L167.0,352.5L166.6,351.8L166.2,351.1L165.8,350.5L165.3,349.9L164.9,349.3L164.6,348.8L164.1,348.2L163.7,347.7L163.4,347.3L162.9,346.9L162.5,346.6L162.1,346.3L161.3,345.9L160.4,345.8L159.9,345.9L159.2,346.3L158.8,346.8L158.4,347.3L158.1,348.1L157.8,348.8L157.6,349.5L157.5,350.3L157.3,351.0L157.3,351.7L157.2,352.4L157.2,353.2L157.2,353.9L157.2,354.4L157.2,355.3L157.3,356.1L157.4,356.8L157.5,357.5L157.6,358.2L157.7,359.0L157.8,359.7L158.0,360.4L158.2,361.1L158.3,361.9L158.5,362.6L158.7,363.3L158.9,364.1L159.1,364.8L159.4,365.5L159.6,366.2L159.8,367.0L160.0,367.6L160.3,368.4L160.6,369.1L160.8,369.9L161.1,370.6L161.4,371.3L161.7,372.0L161.9,372.8L162.2,373.5L162.5,374.1L162.9,374.9L163.2,375.7L163.5,376.4L163.9,377.1L164.1,377.7L164.5,378.5L164.9,379.3L165.3,380.0L165.7,380.8L166.1,381.5L166.5,382.2L166.9,382.9L167.3,383.7L167.7,384.4L168.2,385.1L168.6,385.8L169.0,386.6L169.4,387.2L169.8,387.9L170.2,388.6L170.7,389.3L171.1,390.0L171.5,390.6L171.9,391.3L172.3,392.0L172.7,392.7L173.1,393.4L173.4,393.8L173.8,394.6L174.3,395.3L174.7,396.0L175.1,396.7L175.6,397.4L176.0,398.0L176.4,398.7L176.8,399.3L177.2,400.0L177.6,400.6L177.9,401.1L178.4,401.8L178.8,402.4L179.2,403.0L179.6,403.5L180.0,404.0L180.5,404.6L180.9,405.1L181.3,405.6L181.7,406.1L182.1,406.5L182.5,406.9L182.9,407.3L183.3,407.6Z"/><path fill="#fff5ae" fill-rule="evenodd" d="M182.5,405.5L183.3,405.9L184.1,405.6L184.5,404.7L184.6,404.0L184.7,403.3L184.7,402.5L184.7,401.8L184.6,401.1L184.5,400.6L184.4,399.6L184.3,398.9L184.2,398.2L184.1,397.5L183.9,396.7L183.8,396.0L183.6,395.3L183.4,394.6L183.3,394.0L183.1,393.1L182.9,392.4L182.7,391.7L182.5,390.9L182.3,390.2L182.1,389.6L181.8,388.7L181.6,388.0L181.3,387.3L181.1,386.6L180.9,385.9L180.6,385.1L180.3,384.4L180.0,383.7L179.7,382.9L179.4,382.2L179.2,381.7L178.8,380.8L178.5,380.0L178.2,379.3L178.0,378.8L177.6,377.9L177.3,377.1L176.9,376.4L176.6,375.7L176.4,375.2L176.0,374.3L175.6,373.5L175.3,372.8L174.9,372.0L174.6,371.3L174.3,370.8L173.9,369.9L173.5,369.1L173.2,368.4L172.8,367.7L172.5,367.0L172.1,366.2L171.9,365.7L171.5,364.9L171.1,364.1L170.7,363.4L170.2,362.6L169.9,361.9L169.5,361.1L169.0,360.4L168.6,359.7L168.2,359.0L167.8,358.3L167.4,357.6L167.0,357.0L166.6,356.4L166.2,355.8L165.8,355.3L165.3,354.8L164.9,354.3L164.5,353.9L164.1,353.6L163.7,353.3L162.9,352.9L162.1,352.9L161.5,353.2L160.9,353.9L160.6,354.6L160.3,355.3L160.2,356.1L160.1,356.8L160.0,357.5L160.0,358.2L160.0,359.0L160.0,359.7L160.0,360.3L160.1,361.1L160.2,361.9L160.3,362.6L160.4,363.3L160.6,364.1L160.7,364.8L160.9,365.3L161.1,366.2L161.3,367.0L161.5,367.7L161.7,368.4L161.9,369.1L162.1,369.8L162.3,370.6L162.6,371.3L162.8,372.0L163.1,372.8L163.3,373.3L163.7,374.2L164.0,374.9L164.3,375.7L164.5,376.3L164.9,377.1L165.2,377.9L165.6,378.6L165.9,379.3L166.3,380.0L166.6,380.5L167.0,381.3L167.4,382.1L167.8,382.8L168.2,383.6L168.6,384.3L169.0,385.0L169.4,385.8L169.8,386.5L170.2,387.2L170.7,387.9L171.1,388.6L171.5,389.3L171.9,390.0L172.3,390.7L172.7,391.5L173.1,392.2L173.5,392.9L173.9,393.6L174.3,394.3L174.7,394.9L175.1,395.6L175.6,396.3L176.0,397.0L176.3,397.5L176.7,398.2L177.2,398.9L177.6,399.5L178.0,400.2L178.4,400.8L178.8,401.3L179.2,401.8L179.6,402.5L180.0,403.0L180.5,403.5L180.9,404.0L181.3,404.4L181.7,404.8L182.1,405.2L182.5,405.5Z"/><path fill="#feca79" fill-rule="evenodd" d="M181.7,403.5L182.5,403.9L183.3,403.6L183.7,402.5L183.8,401.8L183.8,401.1L183.7,400.5L183.6,399.6L183.6,398.9L183.4,398.2L183.3,397.5L183.2,396.7L183.0,396.0L182.9,395.4L182.7,394.6L182.5,393.8L182.3,393.1L182.2,392.4L181.9,391.7L181.7,390.9L181.5,390.2L181.3,389.5L181.0,388.7L180.8,388.0L180.5,387.3L180.2,386.6L180.0,386.1L179.7,385.1L179.4,384.4L179.1,383.7L178.8,383.1L178.4,382.2L178.1,381.5L177.8,380.8L177.4,380.0L177.2,379.5L176.8,378.6L176.4,377.9L176.0,377.1L175.7,376.4L175.3,375.7L174.9,374.9L174.5,374.2L174.1,373.5L173.7,372.8L173.3,372.0L172.9,371.3L172.7,370.9L172.3,370.1L171.9,369.4L171.5,368.7L171.1,368.0L170.7,367.3L170.2,366.6L169.8,366.0L169.6,365.5L169.1,364.8L168.6,364.1L168.2,363.4L167.8,362.8L167.4,362.3L167.1,361.9L166.6,361.3L166.2,360.9L165.8,360.5L165.3,360.2L164.5,359.9L163.7,360.0L163.3,360.4L163.0,361.1L162.8,361.9L162.7,362.6L162.6,363.3L162.6,364.1L162.6,364.8L162.7,365.5L162.8,366.2L162.9,367.0L163.0,367.7L163.2,368.4L163.3,369.1L163.5,369.9L163.7,370.6L163.9,371.3L164.1,372.0L164.3,372.8L164.5,373.3L164.9,374.2L165.1,374.9L165.3,375.5L165.7,376.4L166.0,377.1L166.3,377.9L166.6,378.4L167.0,379.3L167.3,380.0L167.7,380.8L168.1,381.5L168.4,382.2L168.8,382.9L169.2,383.7L169.4,384.1L169.8,384.9L170.2,385.7L170.7,386.4L171.1,387.2L171.5,387.9L171.9,388.7L172.3,389.4L172.7,390.2L173.1,390.9L173.5,391.7L173.9,392.4L174.3,393.1L174.7,393.8L175.1,394.5L175.6,395.2L176.0,395.9L176.4,396.6L176.8,397.3L177.2,397.9L177.6,398.5L178.0,399.1L178.3,399.6L178.8,400.3L179.2,400.9L179.6,401.4L180.0,401.8L180.5,402.4L180.9,402.8L181.3,403.2L181.7,403.5Z"/><path fill="#f88950" fill-rule="evenodd" d="M181.7,401.9L182.3,401.8L182.7,401.1L182.8,400.4L182.8,399.6L182.7,398.9L182.7,398.2L182.6,397.5L182.4,396.7L182.3,396.0L182.1,395.3L182.0,394.6L181.8,393.8L181.6,393.1L181.4,392.4L181.2,391.7L180.9,390.9L180.7,390.2L180.5,389.5L180.2,388.7L179.9,388.0L179.6,387.3L179.3,386.6L179.0,385.8L178.8,385.3L178.4,384.4L178.0,383.7L177.7,382.9L177.3,382.2L177.0,381.5L176.6,380.8L176.2,380.0L175.8,379.3L175.3,378.6L174.9,377.9L174.5,377.1L174.0,376.4L173.5,375.7L173.1,375.0L172.7,374.4L172.3,373.8L171.9,373.2L171.5,372.8L171.1,372.1L170.7,371.6L170.2,371.0L169.9,370.6L169.4,370.0L169.0,369.5L168.6,369.0L168.2,368.6L167.8,368.3L167.4,368.0L166.6,367.7L165.8,368.4L165.7,369.1L165.6,369.9L165.7,370.6L165.7,371.3L165.9,372.0L166.0,372.8L166.2,373.4L166.4,374.2L166.6,374.9L166.8,375.7L167.1,376.4L167.3,377.1L167.6,377.9L167.9,378.6L168.2,379.3L168.5,380.0L168.9,380.8L169.2,381.5L169.4,382.0L169.8,382.9L170.2,383.7L170.6,384.4L170.9,385.1L171.3,385.8L171.6,386.6L171.9,387.1L172.3,387.9L172.7,388.7L173.1,389.5L173.5,390.2L173.8,390.9L174.2,391.7L174.6,392.4L175.0,393.1L175.4,393.8L175.8,394.6L176.2,395.3L176.7,396.0L177.1,396.7L177.6,397.5L178.0,398.1L178.4,398.7L178.8,399.2L179.1,399.6L179.6,400.3L180.0,400.7L180.4,401.1L180.9,401.5L181.4,401.8Z"/><path fill="#d0384e" fill-rule="evenodd" d="M180.9,399.7L181.5,398.9L181.6,398.2L181.6,397.5L181.5,396.7L181.4,396.0L181.3,395.3L181.1,394.6L180.9,393.8L180.7,393.1L180.5,392.4L180.3,391.7L180.0,390.9L179.8,390.2L179.5,389.5L179.2,388.8L178.9,388.0L178.6,387.3L178.2,386.6L178.0,386.1L177.6,385.3L177.2,384.5L176.8,383.8L176.4,383.1L176.0,382.5L175.6,381.9L175.2,381.5L174.7,380.8L174.3,380.3L173.9,379.8L173.5,379.4L173.1,379.0L172.7,378.7L172.3,378.4L171.5,377.9L170.7,378.1L170.5,378.6L170.4,379.3L170.5,380.0L170.7,380.7L170.9,381.5L171.1,382.2L171.3,382.9L171.6,383.7L171.8,384.4L172.1,385.1L172.4,385.8L172.7,386.6L173.0,387.3L173.3,388.0L173.6,388.7L173.9,389.4L174.3,390.2L174.7,390.9L175.0,391.7L175.4,392.4L175.8,393.1L176.2,393.8L176.6,394.6L177.0,395.3L177.5,396.0L178.0,396.7L178.4,397.4L178.8,397.9L179.2,398.4L179.6,398.9L180.0,399.2L180.8,399.6Z"/></g>
<clipPath id="clip1"><polygon points="307.8,289.25 450.8,289.25 450.8,434.5 424.5,434.5 424.5,403.5 420.3,400.8 414,392 406.5,383.3 397.6,375.8 388.8,372.3 380,370.2 375,368.3 370,370.2 362.5,372 355,371.4 351.5,368.5 348,366 307.8,366"/></clipPath>
<g clip-path="url(#clip1)"><path fill="#466eb1" fill-rule="evenodd" d="M423.4,402.7L424.2,402.9L425.1,402.9L425.8,402.5L426.3,402.1L426.7,401.3L427.0,400.4L427.2,399.6L427.3,398.9L427.4,398.2L427.4,397.5L427.4,396.7L427.4,396.0L427.4,395.3L427.4,394.6L427.4,393.8L427.4,393.1L427.3,392.4L427.2,391.7L427.2,390.9L427.1,390.3L427.0,389.5L426.9,388.7L426.8,388.0L426.7,387.3L426.6,386.6L426.5,385.8L426.3,385.1L426.2,384.4L426.1,383.7L425.9,382.9L425.8,382.2L425.6,381.5L425.5,380.8L425.3,380.0L425.2,379.3L425.0,378.6L424.8,377.9L424.7,377.1L424.5,376.4L424.3,375.7L424.1,374.9L424.0,374.2L423.8,373.6L423.6,372.8L423.5,372.0L423.3,371.3L423.1,370.6L422.9,369.9L422.8,369.1L422.6,368.6L422.4,367.7L422.2,367.0L422.0,366.2L421.9,365.5L421.7,364.8L421.5,364.1L421.3,363.3L421.1,362.6L421.0,362.0L420.8,361.1L420.6,360.5L420.4,359.7L420.2,359.0L420.0,358.2L419.8,357.5L419.6,356.8L419.4,356.1L419.2,355.3L419.0,354.6L418.8,353.9L418.5,353.2L418.3,352.4L418.1,351.8L417.9,351.0L417.7,350.5L417.4,349.5L417.2,348.8L416.9,348.1L416.7,347.3L416.5,346.9L416.1,345.9L415.8,345.2L415.5,344.4L415.3,343.7L414.9,343.0L414.6,342.3L414.3,341.5L414.0,341.0L413.6,340.2L413.2,339.5L412.8,338.8L412.4,338.1L412.0,337.4L411.6,336.8L411.2,336.3L410.8,335.7L410.4,335.2L409.9,334.7L409.6,334.3L409.1,333.7L408.7,333.2L408.3,332.8L407.9,332.3L407.5,331.8L407.1,331.4L406.7,330.9L406.3,330.4L405.9,329.9L405.4,329.3L405.0,328.7L404.6,328.2L404.3,327.7L403.8,327.0L403.4,326.4L403.0,325.8L402.6,325.2L402.2,324.7L401.8,324.1L401.4,323.5L401.0,322.9L400.5,322.4L400.2,321.9L399.7,321.3L399.3,320.8L398.9,320.3L398.5,319.9L398.1,319.4L397.7,319.0L397.3,318.6L396.9,318.2L396.5,317.8L396.1,317.4L395.6,317.1L395.2,316.7L394.8,316.4L394.4,316.1L394.0,315.8L393.4,315.4L392.8,315.0L392.2,314.7L391.6,314.3L390.8,313.9L389.9,313.6L389.1,313.3L388.3,313.0L387.5,312.8L386.7,312.6L386.0,312.5L385.4,312.4L384.6,312.3L383.8,312.2L383.0,312.1L382.2,312.1L381.3,312.0L380.5,312.1L379.7,312.1L378.9,312.2L378.1,312.4L377.3,312.6L376.4,312.9L375.7,313.2L375.2,313.5L374.4,313.9L373.6,314.3L373.1,314.7L372.4,315.1L371.9,315.4L371.5,315.7L371.1,316.0L370.7,316.3L370.3,316.7L369.9,317.0L369.5,317.3L369.1,317.6L368.7,318.0L368.3,318.3L367.9,318.7L367.5,319.0L367.0,319.4L366.6,319.7L366.2,320.1L365.8,320.4L365.4,320.8L365.0,321.2L364.6,321.6L364.2,321.9L363.8,322.3L363.4,322.8L363.0,323.2L362.5,323.6L362.1,324.1L361.7,324.5L361.3,325.0L360.9,325.5L360.5,326.1L360.1,326.6L359.8,327.0L359.3,327.7L358.9,328.4L358.5,329.0L358.1,329.6L357.6,330.3L357.2,331.0L356.8,331.7L356.4,332.4L356.0,333.2L355.6,334.0L355.2,334.8L354.8,335.6L354.4,336.5L354.1,337.2L353.7,337.9L353.4,338.6L353.2,339.3L352.8,340.1L352.6,340.8L352.3,341.5L352.1,342.3L351.8,343.0L351.6,343.7L351.4,344.4L351.2,345.2L351.0,345.9L350.8,346.6L350.6,347.3L350.4,348.1L350.3,348.8L350.1,349.5L350.0,350.3L349.9,350.8L349.7,351.7L349.6,352.4L349.5,353.2L349.4,353.9L349.3,354.6L349.2,355.3L349.2,356.1L349.1,356.8L349.1,357.5L349.0,358.2L349.0,359.0L349.0,359.7L349.0,360.4L349.0,361.1L349.0,361.9L349.1,362.6L349.2,363.3L349.3,364.1L349.4,364.8L349.5,365.4L349.7,366.2L349.9,367.0L350.1,367.7L350.3,368.2L350.7,369.1L351.1,369.9L351.5,370.5L351.9,371.1L352.3,371.6L352.7,372.0L353.2,372.3L353.6,372.6L354.4,373.1L355.2,373.4L356.0,373.7L356.8,373.8L357.6,373.9L358.5,373.8L359.3,373.8L360.1,373.7L360.9,373.6L361.6,373.5L362.1,373.4L363.0,373.4L363.8,373.4L364.6,373.5L365.4,373.6L366.2,373.8L367.0,374.0L367.9,374.1L368.7,374.3L369.5,374.4L370.3,374.5L371.1,374.5L371.9,374.4L372.8,374.3L373.6,374.1L374.4,373.9L375.2,373.7L376.0,373.5L376.8,373.4L377.7,373.2L378.5,373.1L379.3,373.1L380.1,373.1L380.9,373.2L381.8,373.3L382.3,373.5L383.0,373.7L383.8,374.0L384.3,374.2L385.0,374.5L385.8,374.9L386.7,375.3L387.5,375.7L388.3,376.0L389.1,376.2L389.9,376.4L390.7,376.5L391.6,376.6L392.4,376.6L393.2,376.5L394.0,376.5L394.8,376.5L395.6,376.6L396.5,376.8L397.3,377.0L398.1,377.3L398.9,377.7L399.7,378.2L400.3,378.6L401.0,379.1L401.4,379.4L401.8,379.7L402.2,380.1L402.6,380.4L403.0,380.8L403.4,381.1L403.8,381.5L404.2,381.9L404.6,382.2L405.0,382.6L405.4,383.0L405.9,383.4L406.3,383.7L406.7,384.1L407.1,384.5L407.5,384.9L407.9,385.3L408.3,385.7L408.7,386.2L409.1,386.6L409.5,387.0L409.9,387.5L410.4,387.9L410.8,388.4L411.2,388.9L411.6,389.3L412.0,389.8L412.3,390.2L412.8,390.8L413.2,391.3L413.6,391.8L414.0,392.3L414.4,392.8L414.8,393.3L415.3,393.8L415.7,394.4L416.1,394.9L416.4,395.3L416.9,395.9L417.3,396.4L417.7,397.0L418.1,397.5L418.5,398.0L418.9,398.5L419.3,398.9L419.7,399.5L420.2,399.9L420.5,400.4L421.0,400.8L421.4,401.2L421.8,401.6L422.2,401.9L422.6,402.2L423.2,402.5Z"/><path fill="#54aead" fill-rule="evenodd" d="M421.0,394.0L421.8,394.1L422.6,393.9L423.0,393.5L423.4,392.8L423.8,391.7L423.9,390.9L424.0,390.2L424.0,389.5L424.0,388.7L424.0,388.0L424.0,387.3L423.9,386.6L423.8,385.9L423.7,385.1L423.6,384.4L423.5,383.7L423.4,383.0L423.3,382.2L423.2,381.5L423.0,380.8L422.9,380.0L422.7,379.3L422.6,378.6L422.4,377.9L422.2,377.1L422.1,376.4L421.9,375.7L421.7,374.9L421.6,374.2L421.4,373.5L421.2,372.8L421.0,372.0L420.8,371.3L420.7,370.6L420.5,369.9L420.3,369.1L420.2,368.6L419.9,367.7L419.7,367.0L419.5,366.2L419.3,365.5L419.1,364.8L418.9,364.1L418.7,363.3L418.5,362.6L418.3,361.9L418.1,361.1L417.9,360.4L417.7,359.7L417.5,359.0L417.3,358.4L417.0,357.5L416.8,356.8L416.6,356.1L416.3,355.3L416.1,354.6L415.8,353.9L415.7,353.4L415.3,352.4L415.0,351.7L414.8,351.2L414.5,350.3L414.2,349.5L413.8,348.8L413.6,348.3L413.2,347.4L412.8,346.6L412.4,345.9L412.0,345.2L411.6,344.4L411.2,343.7L410.8,343.0L410.4,342.4L409.9,341.8L409.5,341.3L409.2,340.8L408.7,340.2L408.3,339.7L407.9,339.1L407.5,338.6L407.1,338.1L406.7,337.6L406.3,337.0L405.9,336.5L405.4,335.9L405.0,335.4L404.6,334.8L404.2,334.3L403.8,333.7L403.4,333.1L403.0,332.5L402.6,331.9L402.2,331.4L401.8,330.8L401.4,330.2L401.0,329.6L400.6,329.2L400.1,328.6L399.7,328.1L399.3,327.6L398.9,327.1L398.5,326.7L398.1,326.3L397.7,325.8L397.3,325.4L396.9,325.0L396.5,324.7L396.1,324.3L395.6,324.0L395.2,323.7L394.8,323.4L394.4,323.1L393.8,322.7L393.2,322.3L392.6,321.9L392.0,321.6L391.3,321.2L390.7,321.0L389.9,320.6L389.1,320.3L388.3,320.0L387.5,319.8L387.1,319.6L386.2,319.4L385.4,319.2L384.8,319.0L384.2,318.9L383.4,318.7L382.6,318.6L381.8,318.5L380.9,318.5L380.1,318.5L379.3,318.5L378.5,318.6L377.7,318.7L376.8,319.0L376.0,319.2L375.2,319.6L374.4,320.0L373.6,320.5L372.8,321.0L371.9,321.6L371.5,321.8L371.1,322.1L370.7,322.5L370.3,322.8L369.9,323.1L369.5,323.4L369.1,323.7L368.7,324.1L368.3,324.4L367.9,324.8L367.5,325.1L367.0,325.5L366.6,325.8L366.2,326.2L365.8,326.6L365.4,327.0L365.0,327.4L364.7,327.7L364.2,328.2L363.8,328.7L363.4,329.2L363.0,329.7L362.5,330.3L362.1,330.9L361.8,331.4L361.3,332.1L360.9,332.8L360.5,333.6L360.1,334.3L359.8,335.0L359.4,335.7L359.1,336.5L358.9,337.0L358.5,337.9L358.2,338.6L357.9,339.4L357.6,340.0L357.3,340.8L357.1,341.5L356.8,342.3L356.6,343.0L356.4,343.5L356.1,344.4L355.9,345.2L355.7,345.9L355.5,346.6L355.3,347.3L355.1,348.1L355.0,348.8L354.8,349.5L354.7,350.3L354.5,351.0L354.4,351.7L354.3,352.4L354.2,353.2L354.1,353.9L354.1,354.6L354.0,355.3L354.0,356.1L354.0,356.7L354.0,357.5L354.0,358.2L354.1,359.0L354.2,359.7L354.3,360.4L354.5,361.1L354.7,361.9L355.0,362.6L355.4,363.3L356.0,364.0L356.4,364.4L357.0,364.8L357.6,365.1L358.5,365.3L359.3,365.3L360.1,365.3L360.9,365.2L361.7,365.1L362.5,364.9L363.4,364.8L364.2,364.7L365.0,364.6L365.8,364.5L366.6,364.4L367.5,364.3L368.3,364.2L369.1,364.1L369.9,364.0L370.7,363.8L371.5,363.6L372.4,363.4L373.2,363.2L374.0,363.1L374.8,363.0L375.6,363.0L376.4,363.1L377.3,363.1L378.1,363.3L378.9,363.5L379.7,363.7L380.5,364.0L381.3,364.3L382.2,364.7L383.0,365.1L383.7,365.5L384.2,365.8L385.0,366.2L385.8,366.7L386.7,367.2L387.5,367.7L388.3,368.1L388.9,368.4L389.5,368.7L390.3,369.0L391.1,369.3L392.0,369.6L392.8,369.9L393.6,370.1L394.4,370.4L395.0,370.6L395.6,370.9L396.5,371.2L397.3,371.7L397.9,372.0L398.5,372.5L398.9,372.8L399.7,373.4L400.1,373.7L400.5,374.0L401.0,374.4L401.4,374.8L401.8,375.1L402.2,375.5L402.6,375.9L403.0,376.3L403.4,376.6L403.8,377.0L404.2,377.4L404.6,377.8L405.0,378.2L405.4,378.5L405.9,378.9L406.3,379.3L406.7,379.7L407.1,380.1L407.5,380.5L407.9,380.9L408.3,381.3L408.7,381.7L409.1,382.1L409.5,382.5L409.9,382.9L410.4,383.3L410.8,383.8L411.2,384.2L411.6,384.7L412.0,385.1L412.4,385.6L412.8,386.1L413.2,386.5L413.6,387.0L414.0,387.5L414.4,388.0L414.8,388.5L415.3,388.9L415.7,389.4L416.1,389.9L416.5,390.3L416.9,390.7L417.3,391.2L417.7,391.6L418.1,392.0L418.5,392.3L418.9,392.7L419.3,393.0L419.7,393.3L420.6,393.8Z"/><path fill="#94d4a4" fill-rule="evenodd" d="M418.5,388.9L419.3,389.3L420.2,389.4L421.0,389.1L421.4,388.5L421.7,387.3L421.8,386.6L421.9,385.8L421.9,385.1L421.8,384.4L421.8,383.8L421.7,382.9L421.6,382.2L421.5,381.5L421.4,380.8L421.3,380.0L421.1,379.3L421.0,378.6L420.9,377.9L420.7,377.1L420.6,376.5L420.4,375.7L420.2,374.9L420.1,374.2L419.9,373.5L419.7,372.9L419.5,372.0L419.4,371.3L419.2,370.6L419.0,369.9L418.8,369.1L418.6,368.4L418.4,367.7L418.2,367.0L418.0,366.2L417.8,365.5L417.6,364.8L417.4,364.1L417.2,363.3L417.0,362.6L416.8,361.9L416.5,361.1L416.3,360.4L416.1,359.7L415.8,359.0L415.7,358.4L415.4,357.5L415.1,356.8L414.8,356.1L414.6,355.3L414.3,354.6L414.0,353.9L413.7,353.2L413.4,352.4L413.2,352.0L412.8,351.1L412.4,350.3L412.1,349.5L411.7,348.8L411.3,348.1L410.9,347.3L410.4,346.6L410.0,345.9L409.5,345.2L409.1,344.6L408.7,344.0L408.3,343.5L408.0,343.0L407.5,342.4L407.1,341.8L406.7,341.3L406.3,340.8L405.9,340.1L405.4,339.6L405.0,339.0L404.6,338.4L404.3,337.9L403.8,337.3L403.4,336.7L403.0,336.1L402.6,335.5L402.2,335.0L401.8,334.4L401.4,333.8L401.0,333.3L400.6,332.8L400.1,332.3L399.7,331.8L399.4,331.4L398.9,330.8L398.5,330.4L398.1,330.0L397.7,329.5L397.3,329.2L396.9,328.8L396.5,328.4L396.1,328.1L395.6,327.8L395.2,327.5L394.8,327.2L394.0,326.6L393.5,326.3L392.8,325.9L392.2,325.6L391.6,325.2L390.7,324.8L389.9,324.5L389.1,324.2L388.3,323.9L387.5,323.6L386.9,323.4L386.2,323.2L385.4,322.9L384.6,322.7L383.8,322.5L383.0,322.4L382.2,322.2L381.3,322.1L380.5,322.0L379.7,322.0L378.9,322.1L378.1,322.2L377.3,322.4L376.4,322.6L375.6,323.0L374.8,323.4L374.0,323.8L373.5,324.1L372.8,324.6L372.4,324.9L371.9,325.2L371.5,325.5L371.1,325.8L370.7,326.2L370.3,326.5L369.9,326.8L369.5,327.1L369.1,327.5L368.7,327.8L368.3,328.2L367.9,328.5L367.5,328.9L367.0,329.3L366.6,329.7L366.2,330.1L365.8,330.5L365.4,330.9L365.0,331.4L364.6,331.9L364.2,332.4L363.8,333.0L363.4,333.6L363.0,334.3L362.6,335.0L362.2,335.7L361.8,336.5L361.5,337.2L361.2,337.9L360.9,338.6L360.6,339.4L360.4,340.1L360.2,340.8L359.9,341.5L359.7,342.3L359.5,343.0L359.3,343.7L359.1,344.4L358.9,345.2L358.8,345.9L358.6,346.6L358.5,347.3L358.3,348.1L358.2,348.8L358.1,349.5L358.1,350.2L358.0,351.0L357.9,351.7L357.9,352.4L357.9,353.2L358.0,353.9L358.1,354.4L358.2,355.3L358.4,356.1L358.7,356.8L359.2,357.5L359.7,358.0L360.1,358.3L360.9,358.6L361.7,358.8L362.5,358.9L363.4,358.9L364.2,358.9L365.0,358.9L365.8,358.8L366.6,358.7L367.5,358.6L368.3,358.4L368.9,358.2L369.5,358.1L370.3,357.9L371.1,357.6L371.9,357.4L372.8,357.3L373.6,357.2L374.4,357.2L375.2,357.2L376.0,357.4L376.6,357.5L377.3,357.7L378.1,358.0L378.7,358.2L379.3,358.5L380.1,358.9L380.9,359.3L381.6,359.7L382.2,360.0L382.9,360.4L383.4,360.8L384.0,361.1L384.6,361.5L385.1,361.9L385.8,362.3L386.7,362.9L387.3,363.3L387.9,363.7L388.5,364.1L389.1,364.4L389.7,364.8L390.3,365.1L391.0,365.5L391.6,365.8L392.4,366.2L393.2,366.6L394.0,367.0L394.8,367.4L395.4,367.7L396.1,368.0L396.7,368.4L397.3,368.8L397.8,369.1L398.5,369.7L398.9,370.0L399.3,370.3L399.7,370.7L400.1,371.0L400.5,371.4L401.0,371.8L401.4,372.2L401.8,372.6L402.2,372.9L402.6,373.3L403.0,373.7L403.4,374.1L403.8,374.5L404.2,374.9L404.6,375.3L405.0,375.7L405.4,376.1L405.8,376.4L406.3,376.8L406.7,377.2L407.1,377.6L407.5,377.9L407.9,378.3L408.3,378.7L408.7,379.1L409.1,379.5L409.5,379.9L409.9,380.3L410.4,380.7L410.8,381.1L411.2,381.5L411.6,381.9L412.0,382.4L412.4,382.8L412.8,383.3L413.2,383.7L413.6,384.2L414.0,384.6L414.4,385.1L414.8,385.5L415.3,386.0L415.7,386.4L416.1,386.8L416.5,387.2L416.9,387.6L417.3,388.0L417.7,388.3L418.1,388.6Z"/><path fill="#cfec9d" fill-rule="evenodd" d="M417.7,385.3L418.5,385.5L419.3,385.1L419.7,384.4L419.9,383.7L419.9,382.9L419.9,382.2L419.9,381.5L419.9,380.8L419.8,380.0L419.7,379.3L419.6,378.6L419.5,377.9L419.4,377.1L419.2,376.4L419.1,375.7L418.9,374.9L418.8,374.2L418.6,373.5L418.5,372.8L418.3,372.0L418.1,371.3L417.9,370.6L417.8,369.9L417.6,369.1L417.4,368.4L417.2,367.7L417.0,367.0L416.8,366.2L416.6,365.5L416.4,364.8L416.2,364.1L416.0,363.3L415.7,362.6L415.5,361.9L415.3,361.1L415.0,360.4L414.8,359.9L414.5,359.0L414.3,358.2L414.0,357.6L413.7,356.8L413.5,356.1L413.2,355.5L412.9,354.6L412.5,353.9L412.2,353.2L412.0,352.7L411.6,351.8L411.2,351.1L410.8,350.3L410.4,349.6L409.9,348.9L409.5,348.2L409.1,347.6L408.7,347.0L408.3,346.3L408.0,345.9L407.5,345.2L407.1,344.6L406.7,344.0L406.3,343.4L405.9,343.0L405.4,342.3L405.0,341.7L404.6,341.1L404.2,340.6L403.9,340.1L403.4,339.4L403.0,338.8L402.6,338.2L402.2,337.7L401.8,337.2L401.4,336.5L401.0,336.0L400.5,335.5L400.2,335.0L399.7,334.5L399.3,334.0L398.9,333.6L398.5,333.1L398.1,332.7L397.7,332.3L397.3,331.9L396.9,331.6L396.5,331.2L396.1,330.9L395.6,330.6L395.2,330.3L394.7,329.9L394.0,329.5L393.5,329.2L392.8,328.8L392.2,328.5L391.6,328.1L390.7,327.8L389.9,327.4L389.1,327.1L388.3,326.8L387.5,326.5L387.0,326.3L386.2,326.1L385.4,325.8L384.6,325.6L383.8,325.3L383.0,325.2L382.2,325.0L381.3,324.9L380.5,324.8L379.7,324.8L378.9,324.8L378.1,325.0L377.3,325.2L376.4,325.4L375.6,325.8L374.8,326.2L374.0,326.7L373.2,327.3L372.8,327.6L372.4,327.9L371.9,328.3L371.5,328.6L371.1,329.0L370.7,329.3L370.3,329.7L369.9,330.0L369.5,330.4L369.1,330.7L368.7,331.1L368.3,331.5L367.9,331.9L367.5,332.3L367.0,332.7L366.6,333.1L366.2,333.6L365.8,334.1L365.4,334.6L365.0,335.2L364.7,335.7L364.3,336.5L363.9,337.2L363.5,337.9L363.2,338.6L363.0,339.4L362.7,340.1L362.5,340.6L362.3,341.5L362.1,342.1L361.9,343.0L361.8,343.7L361.7,344.4L361.6,345.2L361.5,345.9L361.4,346.6L361.4,347.3L361.4,348.1L361.4,348.8L361.5,349.5L361.7,350.3L361.9,351.0L362.1,351.6L362.5,352.3L363.0,352.8L363.4,353.1L364.2,353.6L365.0,353.8L365.8,353.9L366.6,353.9L367.2,353.9L367.9,353.8L368.7,353.6L369.5,353.4L370.3,353.2L371.1,352.9L371.9,352.8L372.8,352.7L373.6,352.7L374.4,352.8L375.2,353.0L375.8,353.2L376.4,353.4L377.3,353.8L378.1,354.2L378.9,354.6L379.7,355.1L380.2,355.3L380.9,355.8L381.8,356.3L382.4,356.8L383.0,357.2L383.5,357.5L384.2,358.0L385.0,358.6L385.4,358.9L385.8,359.2L386.2,359.5L386.7,359.7L387.1,360.0L387.5,360.3L387.9,360.6L388.3,360.9L389.1,361.5L389.7,361.9L390.3,362.3L390.8,362.6L391.6,363.1L392.4,363.6L393.2,364.1L394.0,364.5L394.8,365.0L395.6,365.5L396.1,365.8L396.7,366.2L397.3,366.7L397.7,367.0L398.1,367.3L398.5,367.6L398.9,368.0L399.3,368.3L399.7,368.7L400.1,369.0L400.5,369.4L401.0,369.8L401.4,370.2L401.8,370.6L402.2,371.0L402.6,371.4L403.0,371.8L403.4,372.2L403.8,372.6L404.2,373.0L404.6,373.4L405.0,373.8L405.4,374.2L405.9,374.5L406.3,374.9L406.7,375.3L407.1,375.7L407.5,376.0L407.9,376.4L408.3,376.8L408.7,377.1L409.1,377.5L409.5,377.9L409.9,378.2L410.3,378.6L410.8,379.0L411.2,379.4L411.6,379.8L412.0,380.2L412.4,380.6L412.8,381.0L413.2,381.4L413.6,381.8L414.0,382.2L414.4,382.6L414.8,383.0L415.3,383.4L415.7,383.8L416.1,384.2L416.5,384.5L416.9,384.8L417.4,385.1Z"/><path fill="#f3faac" fill-rule="evenodd" d="M415.3,380.8L416.1,381.3L416.9,381.5L417.7,380.8L417.9,380.0L418.0,379.3L418.0,378.6L418.0,377.9L417.9,377.1L417.9,376.4L417.8,375.7L417.7,374.9L417.5,374.2L417.4,373.5L417.3,372.9L417.1,372.0L417.0,371.3L416.8,370.6L416.6,369.9L416.5,369.2L416.3,368.4L416.1,367.7L415.9,367.0L415.7,366.2L415.5,365.5L415.3,364.8L415.1,364.1L414.8,363.3L414.6,362.6L414.4,362.0L414.1,361.1L413.9,360.4L413.6,359.7L413.4,359.0L413.1,358.2L412.8,357.5L412.5,356.8L412.2,356.1L412.0,355.5L411.6,354.6L411.2,353.9L410.9,353.2L410.5,352.4L410.1,351.7L409.7,351.0L409.2,350.3L408.8,349.5L408.3,348.8L407.9,348.1L407.5,347.5L407.1,346.9L406.7,346.3L406.4,345.9L405.9,345.2L405.4,344.6L405.0,344.0L404.6,343.4L404.2,342.8L403.9,342.3L403.4,341.6L403.0,341.0L402.6,340.4L402.2,339.9L401.8,339.4L401.4,338.8L401.0,338.2L400.5,337.7L400.1,337.2L399.7,336.7L399.3,336.2L398.9,335.8L398.5,335.4L398.1,335.0L397.7,334.6L397.3,334.2L396.9,333.8L396.5,333.5L396.1,333.2L395.6,332.9L394.8,332.3L394.0,331.8L393.2,331.4L392.4,330.9L391.8,330.6L391.1,330.4L390.3,330.0L389.5,329.7L388.7,329.3L387.9,329.0L387.1,328.8L386.2,328.5L385.4,328.2L384.6,328.0L383.8,327.8L383.0,327.6L382.2,327.4L381.3,327.3L380.5,327.2L379.7,327.2L378.9,327.3L378.1,327.4L377.3,327.7L376.4,328.0L375.6,328.4L374.8,328.9L374.4,329.2L374.0,329.6L373.6,329.9L373.2,330.2L372.8,330.6L372.4,331.0L371.9,331.4L371.5,331.8L371.1,332.1L370.7,332.6L370.3,333.0L369.9,333.4L369.5,333.8L369.1,334.2L368.7,334.6L368.3,335.0L367.9,335.5L367.5,336.0L367.1,336.5L366.6,337.2L366.2,337.9L365.8,338.6L365.5,339.4L365.2,340.1L365.0,340.8L364.8,341.5L364.7,342.3L364.6,342.8L364.5,343.7L364.5,344.4L364.5,345.2L364.6,345.7L364.8,346.6L365.0,347.1L365.4,347.8L365.8,348.3L366.2,348.6L366.7,348.8L367.5,349.0L368.3,349.0L369.1,348.9L369.9,348.8L370.7,348.7L371.5,348.6L372.4,348.6L373.2,348.7L374.0,348.9L374.8,349.2L375.6,349.5L376.4,350.0L377.0,350.3L377.7,350.7L378.1,351.0L378.9,351.5L379.7,352.0L380.3,352.4L380.9,352.9L381.3,353.2L381.8,353.5L382.2,353.8L382.6,354.1L383.0,354.4L383.4,354.7L383.8,355.0L384.2,355.3L384.6,355.6L385.0,355.9L385.4,356.2L385.8,356.5L386.2,356.8L386.7,357.2L387.1,357.5L387.5,357.8L387.9,358.1L388.3,358.4L388.7,358.7L389.1,359.0L389.5,359.4L389.9,359.7L390.3,360.0L390.7,360.3L391.1,360.6L391.6,360.9L392.0,361.1L392.8,361.7L393.6,362.3L394.1,362.6L394.8,363.1L395.6,363.6L396.1,363.9L396.5,364.2L396.9,364.5L397.3,364.9L397.7,365.2L398.1,365.5L398.5,365.9L398.9,366.2L399.3,366.6L399.7,367.0L400.1,367.4L400.5,367.7L401.0,368.1L401.4,368.5L401.8,369.0L402.2,369.4L402.6,369.8L403.0,370.2L403.4,370.6L403.8,371.0L404.2,371.4L404.6,371.8L405.0,372.2L405.4,372.6L405.9,372.9L406.3,373.3L406.7,373.7L407.1,374.0L407.5,374.4L407.9,374.7L408.3,375.1L408.7,375.4L409.1,375.8L409.5,376.1L409.9,376.5L410.4,376.8L410.7,377.1L411.2,377.5L411.6,377.8L412.0,378.2L412.4,378.5L412.8,378.9L413.2,379.2L413.6,379.6L414.0,379.9L414.4,380.2L414.8,380.5Z"/><path fill="#fff2aa" fill-rule="evenodd" d="M413.2,377.1L414.0,377.5L414.8,377.8L415.7,377.5L416.1,376.8L416.2,375.7L416.2,374.9L416.2,374.2L416.2,373.5L416.1,372.8L416.0,372.0L415.8,371.3L415.7,370.6L415.6,369.9L415.4,369.1L415.3,368.4L415.1,367.7L414.9,367.0L414.7,366.2L414.5,365.5L414.3,364.8L414.1,364.1L413.9,363.3L413.6,362.6L413.4,361.9L413.2,361.3L412.9,360.4L412.6,359.7L412.4,359.1L412.1,358.2L411.8,357.5L411.4,356.8L411.2,356.2L410.8,355.3L410.4,354.6L410.1,353.9L409.7,353.2L409.3,352.4L408.8,351.7L408.4,351.0L407.9,350.3L407.5,349.5L407.1,348.9L406.7,348.3L406.3,347.7L405.9,347.1L405.6,346.6L405.1,345.9L404.6,345.3L404.2,344.7L403.8,344.1L403.4,343.5L403.1,343.0L402.6,342.3L402.2,341.7L401.8,341.2L401.4,340.6L401.0,340.1L400.5,339.5L400.1,339.0L399.8,338.6L399.3,338.1L398.9,337.6L398.5,337.2L398.1,336.8L397.7,336.5L397.3,336.1L396.9,335.7L396.5,335.4L396.1,335.1L395.6,334.8L394.8,334.3L394.0,333.8L393.2,333.3L392.4,332.9L391.6,332.6L390.7,332.2L389.9,331.9L389.1,331.6L388.6,331.4L387.9,331.1L387.1,330.8L386.5,330.6L385.8,330.4L385.0,330.2L384.2,330.0L383.4,329.8L382.6,329.6L381.8,329.5L380.9,329.4L380.1,329.4L379.3,329.4L378.5,329.6L377.7,329.9L376.8,330.3L376.2,330.6L375.6,331.1L375.2,331.4L374.8,331.7L374.4,332.1L374.0,332.6L373.6,333.0L373.2,333.5L372.8,334.0L372.4,334.6L372.0,335.0L371.5,335.7L371.1,336.4L370.7,337.0L370.3,337.7L369.9,338.5L369.5,339.4L369.3,340.1L369.2,340.8L369.2,341.5L369.4,342.3L369.9,342.8L370.3,343.1L371.1,343.6L371.9,344.0L372.8,344.4L373.6,344.9L374.1,345.2L374.8,345.6L375.6,346.2L376.0,346.5L376.4,346.8L376.8,347.1L377.3,347.5L377.7,347.8L378.1,348.1L378.5,348.4L378.9,348.7L379.3,349.1L379.7,349.4L380.1,349.7L380.5,350.0L380.9,350.4L381.3,350.7L381.8,351.0L382.2,351.3L382.6,351.7L383.0,352.0L383.4,352.3L383.8,352.6L384.2,353.0L384.6,353.3L385.0,353.6L385.4,354.0L385.8,354.3L386.2,354.6L386.7,355.0L387.1,355.3L387.5,355.6L387.9,356.0L388.3,356.3L388.7,356.7L389.1,357.0L389.5,357.3L389.9,357.7L390.3,358.0L390.7,358.3L391.1,358.7L391.5,359.0L392.0,359.3L392.4,359.6L392.8,359.9L393.2,360.2L393.6,360.5L394.0,360.8L394.4,361.1L394.8,361.4L395.2,361.7L395.6,362.1L396.1,362.4L396.5,362.7L396.9,363.0L397.3,363.3L397.7,363.7L398.1,364.0L398.5,364.4L398.9,364.8L399.3,365.1L399.7,365.5L400.1,365.9L400.5,366.3L401.0,366.7L401.4,367.1L401.8,367.5L402.2,368.0L402.6,368.4L403.0,368.8L403.4,369.2L403.8,369.6L404.2,370.0L404.6,370.4L405.0,370.8L405.4,371.2L405.9,371.6L406.3,371.9L406.7,372.3L407.1,372.6L407.5,373.0L407.9,373.3L408.3,373.6L408.7,373.9L409.1,374.3L409.5,374.6L409.9,374.9L410.4,375.2L410.8,375.5L411.2,375.8L412.0,376.3L412.8,376.9Z"/><path fill="#fece7c" fill-rule="evenodd" d="M412.8,374.3L413.6,374.1L414.0,373.6L414.3,372.8L414.4,372.0L414.4,371.3L414.3,370.6L414.2,369.9L414.1,369.1L414.0,368.4L413.9,367.7L413.7,367.0L413.6,366.2L413.4,365.5L413.2,364.9L413.0,364.1L412.8,363.5L412.5,362.6L412.3,361.9L412.0,361.1L411.8,360.4L411.6,359.9L411.2,359.0L410.9,358.2L410.6,357.5L410.4,357.0L409.9,356.1L409.6,355.3L409.2,354.6L408.8,353.9L408.4,353.2L407.9,352.4L407.5,351.7L407.1,351.0L406.7,350.4L406.3,349.7L405.9,349.1L405.4,348.5L405.0,347.9L404.7,347.3L404.2,346.6L403.8,346.0L403.4,345.4L403.0,344.8L402.6,344.2L402.2,343.7L401.8,343.1L401.4,342.5L401.0,342.0L400.6,341.5L400.1,341.0L399.7,340.5L399.4,340.1L398.9,339.6L398.5,339.2L398.1,338.8L397.7,338.4L397.3,338.0L396.9,337.7L396.5,337.4L396.1,337.1L395.2,336.6L394.4,336.1L393.8,335.7L393.2,335.4L392.4,335.1L391.6,334.7L390.7,334.4L389.9,334.1L389.1,333.8L388.3,333.6L387.5,333.3L386.7,333.0L386.0,332.8L385.4,332.7L384.6,332.4L383.8,332.3L383.0,332.1L382.2,332.0L381.3,331.9L380.5,332.0L379.7,332.1L378.9,332.3L378.1,332.7L377.3,333.3L376.8,333.7L376.4,334.1L376.0,334.7L375.6,335.4L375.2,336.3L375.0,337.2L374.9,337.9L374.9,338.6L375.0,339.4L375.1,340.1L375.4,340.8L375.8,341.5L376.0,342.0L376.4,342.6L376.8,343.1L377.3,343.7L377.7,344.1L378.1,344.6L378.5,345.0L378.9,345.5L379.3,345.9L379.7,346.3L380.1,346.7L380.5,347.1L380.9,347.5L381.3,347.9L381.8,348.2L382.2,348.6L382.6,349.0L383.0,349.3L383.4,349.7L383.8,350.1L384.2,350.4L384.6,350.8L385.0,351.1L385.4,351.5L385.8,351.8L386.2,352.2L386.7,352.6L387.1,352.9L387.5,353.3L387.9,353.7L388.3,354.0L388.7,354.4L389.1,354.8L389.5,355.2L389.9,355.5L390.3,355.9L390.7,356.3L391.1,356.6L391.6,357.0L392.0,357.3L392.4,357.7L392.8,358.0L393.2,358.4L393.6,358.7L394.0,359.0L394.4,359.4L394.8,359.7L395.2,360.0L395.6,360.4L396.1,360.7L396.5,361.0L396.9,361.4L397.3,361.7L397.7,362.1L398.1,362.4L398.5,362.8L398.9,363.2L399.3,363.6L399.7,364.0L400.1,364.4L400.5,364.8L401.0,365.2L401.4,365.6L401.8,366.0L402.2,366.5L402.6,366.9L403.0,367.3L403.4,367.7L403.8,368.1L404.2,368.5L404.6,368.9L405.0,369.3L405.4,369.7L405.9,370.0L406.3,370.4L406.7,370.7L407.1,371.1L407.5,371.4L407.9,371.7L408.3,372.0L409.1,372.6L409.9,373.1L410.6,373.5L411.2,373.8L412.0,374.1L412.8,374.3Z"/><path fill="#fa9b58" fill-rule="evenodd" d="M409.1,370.6L409.9,371.0L410.8,371.1L411.6,371.0L412.0,370.7L412.3,369.9L412.5,369.1L412.5,368.4L412.4,367.7L412.3,367.0L412.2,366.2L412.1,365.5L411.9,364.8L411.7,364.1L411.6,363.5L411.3,362.6L411.2,362.1L410.8,361.1L410.6,360.4L410.4,359.9L410.0,359.0L409.7,358.2L409.3,357.5L409.1,357.1L408.7,356.2L408.3,355.4L407.9,354.7L407.5,354.0L407.1,353.3L406.7,352.6L406.3,351.9L405.9,351.2L405.4,350.6L405.0,350.0L404.8,349.5L404.3,348.8L403.8,348.1L403.4,347.5L403.0,346.8L402.6,346.2L402.2,345.7L401.8,345.2L401.4,344.5L401.0,344.0L400.5,343.5L400.2,343.0L399.7,342.5L399.3,342.0L398.9,341.6L398.5,341.2L398.1,340.8L397.7,340.4L397.3,340.0L396.9,339.7L396.5,339.4L395.6,338.9L394.8,338.4L394.0,338.0L393.2,337.6L392.4,337.3L391.6,337.0L390.7,336.7L389.9,336.5L389.1,336.3L388.3,336.0L387.5,335.8L386.7,335.6L385.8,335.5L385.0,335.3L384.2,335.2L383.4,335.1L382.6,335.1L381.8,335.2L380.9,335.4L380.3,335.7L379.7,336.3L379.3,336.9L378.9,337.9L378.9,338.6L378.9,339.4L379.1,340.1L379.3,340.8L379.6,341.5L380.0,342.3L380.5,343.0L380.9,343.7L381.3,344.2L381.8,344.7L382.1,345.2L382.6,345.7L383.0,346.1L383.4,346.6L383.8,347.0L384.1,347.3L384.6,347.8L385.0,348.2L385.4,348.6L385.8,349.1L386.2,349.5L386.7,349.9L387.0,350.3L387.5,350.7L387.9,351.1L388.3,351.5L388.7,351.9L389.1,352.4L389.5,352.8L389.9,353.2L390.3,353.6L390.7,354.0L391.1,354.4L391.6,354.9L392.0,355.3L392.4,355.6L392.8,356.0L393.2,356.4L393.6,356.8L394.0,357.2L394.4,357.5L394.8,357.9L395.2,358.2L395.6,358.6L396.1,359.0L396.5,359.3L396.9,359.7L397.3,360.0L397.7,360.4L398.1,360.8L398.5,361.1L398.9,361.6L399.3,361.9L399.7,362.3L400.1,362.8L400.5,363.2L401.0,363.6L401.4,364.0L401.8,364.4L402.2,364.9L402.6,365.3L403.0,365.7L403.4,366.1L403.8,366.5L404.2,366.9L404.6,367.3L405.0,367.7L405.4,368.1L405.8,368.4L406.3,368.8L406.7,369.1L407.1,369.4L407.5,369.7L408.3,370.2L409.0,370.6Z"/><path fill="#ea5e47" fill-rule="evenodd" d="M407.9,367.9L408.7,368.1L409.5,368.0L410.0,367.7L410.4,367.0L410.5,366.2L410.5,365.5L410.4,364.8L410.3,364.1L410.1,363.3L409.9,362.6L409.7,361.9L409.5,361.3L409.2,360.4L408.9,359.7L408.7,359.1L408.3,358.2L408.0,357.5L407.6,356.8L407.3,356.1L406.9,355.3L406.5,354.6L406.1,353.9L405.6,353.2L405.2,352.4L404.8,351.7L404.3,351.0L403.8,350.3L403.4,349.6L403.0,348.9L402.6,348.3L402.2,347.7L401.8,347.1L401.4,346.6L401.0,346.0L400.5,345.5L400.1,345.0L399.7,344.5L399.3,344.0L398.9,343.6L398.5,343.2L398.1,342.8L397.7,342.4L397.3,342.1L396.9,341.8L396.1,341.3L395.3,340.8L394.4,340.4L393.6,340.1L392.8,339.8L392.0,339.6L391.1,339.4L390.6,339.4L389.9,339.3L389.1,339.2L388.3,339.2L387.5,339.2L386.7,339.2L386.0,339.4L385.4,339.6L384.7,340.1L384.4,340.8L384.3,341.5L384.5,342.3L384.7,343.0L385.0,343.6L385.4,344.3L385.8,345.0L386.2,345.6L386.7,346.2L386.9,346.6L387.5,347.3L387.9,347.9L388.3,348.4L388.6,348.8L389.1,349.5L389.5,350.0L389.9,350.5L390.3,351.0L390.7,351.5L391.1,352.0L391.5,352.4L392.0,352.9L392.4,353.4L392.8,353.8L393.2,354.3L393.6,354.7L394.0,355.1L394.4,355.5L394.8,355.9L395.2,356.3L395.6,356.7L396.1,357.1L396.5,357.5L396.9,357.9L397.3,358.2L397.7,358.6L398.1,359.0L398.5,359.4L398.9,359.8L399.3,360.2L399.7,360.6L400.1,361.0L400.5,361.5L400.9,361.9L401.4,362.3L401.8,362.7L402.2,363.1L402.6,363.6L403.0,364.0L403.4,364.4L403.8,364.8L404.2,365.2L404.6,365.6L405.0,365.9L405.4,366.3L405.9,366.6L406.3,366.9L407.1,367.4L407.5,367.7Z"/><path fill="#be254a" fill-rule="evenodd" d="M406.7,364.1L407.5,363.6L407.7,362.6L407.6,361.9L407.5,361.2L407.3,360.4L407.1,359.8L406.8,359.0L406.5,358.2L406.3,357.7L405.9,356.8L405.5,356.1L405.1,355.3L404.7,354.6L404.3,353.9L403.9,353.2L403.5,352.4L403.0,351.7L402.6,351.0L402.2,350.4L401.8,349.8L401.4,349.2L401.0,348.6L400.6,348.1L400.1,347.5L399.7,347.0L399.4,346.6L398.9,346.1L398.5,345.7L398.1,345.4L397.7,345.0L397.3,344.7L396.5,344.2L395.6,343.8L394.8,343.5L394.0,343.3L393.2,343.3L392.4,343.4L391.6,343.7L391.1,344.2L390.8,345.2L390.8,345.9L390.9,346.6L391.1,347.3L391.4,348.1L391.8,348.8L392.1,349.5L392.6,350.3L393.1,351.0L393.6,351.7L394.0,352.3L394.4,352.8L394.8,353.3L395.2,353.8L395.6,354.2L396.0,354.6L396.5,355.1L396.9,355.5L397.3,356.0L397.7,356.4L398.1,356.8L398.5,357.2L398.9,357.6L399.3,358.0L399.7,358.4L400.1,358.8L400.5,359.2L401.0,359.6L401.4,360.0L401.7,360.4L402.2,360.8L402.6,361.2L403.0,361.6L403.4,362.0L403.8,362.4L404.2,362.7L404.6,363.0L405.0,363.3L405.9,363.8L406.7,364.1Z"/></g>
<clipPath id="clip2"><rect x="541.00" y="289.25" width="142.70" height="145.25"/></clipPath>
<g clip-path="url(#clip2)"><path fill="#4175b4" fill-rule="evenodd" d="M653.5,395.4L654.3,395.7L655.2,395.8L656.0,395.6L656.4,395.3L656.8,394.8L657.2,394.0L657.5,393.1L657.6,392.5L657.7,391.7L657.8,390.9L657.8,390.2L657.8,389.5L657.8,388.7L657.8,388.0L657.8,387.3L657.7,386.6L657.7,385.8L657.6,385.1L657.5,384.4L657.4,383.7L657.3,382.9L657.2,382.2L657.1,381.5L657.0,380.8L656.9,380.0L656.8,379.3L656.6,378.6L656.5,377.9L656.3,377.1L656.2,376.4L656.0,375.7L655.9,374.9L655.7,374.2L655.6,373.7L655.4,372.8L655.2,372.0L655.0,371.3L654.8,370.6L654.6,369.9L654.3,369.1L654.1,368.4L653.9,367.8L653.7,367.0L653.4,366.2L653.2,365.5L652.9,364.8L652.7,364.2L652.4,363.3L652.1,362.6L651.9,362.1L651.5,361.1L651.2,360.4L650.9,359.7L650.7,359.2L650.3,358.3L649.9,357.5L649.6,356.8L649.3,356.1L649.0,355.5L648.6,354.6L648.3,353.9L648.0,353.2L647.6,352.4L647.4,351.9L647.0,351.0L646.7,350.3L646.3,349.5L646.0,348.8L645.8,348.3L645.4,347.3L645.1,346.6L644.7,345.9L644.4,345.2L644.2,344.5L643.8,343.7L643.5,343.0L643.2,342.3L642.9,341.7L642.6,340.8L642.3,340.1L641.9,339.4L641.7,338.8L641.3,337.9L641.0,337.2L640.7,336.5L640.3,335.7L640.1,335.2L639.7,334.3L639.3,333.6L638.9,332.8L638.5,332.1L638.1,331.4L637.6,330.6L637.2,330.0L636.8,329.4L636.4,328.9L636.1,328.5L635.6,327.9L635.2,327.5L634.8,327.1L634.4,326.7L634.0,326.4L633.6,326.0L633.1,325.7L632.3,325.2L631.7,324.8L631.1,324.5L630.3,324.1L629.5,323.7L628.9,323.4L628.3,323.0L627.7,322.7L627.0,322.2L626.6,321.9L626.2,321.6L625.8,321.2L625.4,320.9L625.0,320.5L624.6,320.1L624.2,319.7L623.8,319.3L623.4,318.9L623.0,318.5L622.5,318.1L622.1,317.7L621.7,317.3L621.3,316.9L620.9,316.5L620.5,316.2L620.1,315.8L619.7,315.5L619.3,315.2L618.9,314.8L618.5,314.5L618.1,314.2L617.6,313.9L616.8,313.4L616.0,313.0L615.2,312.6L614.4,312.3L613.6,312.0L612.8,311.8L612.1,311.8L611.5,311.7L610.7,311.7L609.9,311.8L609.1,311.9L608.3,312.1L607.5,312.3L606.9,312.5L606.2,312.7L605.4,313.0L604.8,313.2L604.2,313.5L603.4,313.8L602.6,314.1L601.7,314.5L601.3,314.7L600.5,315.0L599.7,315.4L598.9,315.8L598.5,316.1L597.7,316.7L597.3,317.0L596.9,317.4L596.4,317.8L596.0,318.2L595.6,318.7L595.2,319.1L594.8,319.7L594.4,320.2L594.0,320.8L593.6,321.4L593.3,321.9L592.8,322.7L592.4,323.4L592.0,324.1L591.6,324.8L591.3,325.6L590.9,326.3L590.5,327.0L590.2,327.7L589.9,328.3L589.5,329.2L589.2,329.9L588.9,330.6L588.6,331.4L588.3,332.0L588.0,332.8L587.7,333.6L587.5,334.0L587.1,335.0L586.8,335.7L586.5,336.5L586.3,337.2L586.0,337.9L585.7,338.6L585.5,339.4L585.2,340.1L585.0,340.7L584.8,341.5L584.5,342.3L584.3,343.0L584.1,343.7L583.8,344.4L583.6,345.2L583.4,345.9L583.2,346.6L583.0,347.3L582.9,348.1L582.7,348.8L582.5,349.5L582.3,350.3L582.2,351.0L582.0,351.7L581.9,352.4L581.8,353.2L581.6,353.9L581.5,354.6L581.4,355.3L581.4,355.9L581.3,356.8L581.2,357.5L581.1,358.2L581.1,359.0L581.0,359.7L581.0,360.4L581.0,361.1L581.0,361.9L581.0,362.6L581.0,363.3L581.1,364.1L581.1,364.8L581.2,365.5L581.3,366.2L581.4,366.9L581.5,367.7L581.6,368.4L581.7,369.1L581.9,369.9L582.1,370.6L582.3,371.3L582.6,372.0L582.9,372.8L583.3,373.5L583.7,374.2L584.2,374.8L584.6,375.1L585.4,375.6L586.3,375.8L587.1,375.8L587.9,375.8L588.7,375.8L589.4,375.7L589.9,375.6L590.7,375.5L591.6,375.5L592.4,375.5L593.2,375.5L594.0,375.5L594.8,375.5L595.6,375.6L596.4,375.6L597.3,375.7L598.1,375.7L598.9,375.6L599.7,375.5L600.5,375.3L601.3,375.1L601.9,374.9L602.6,374.7L603.4,374.5L604.2,374.2L605.0,374.0L605.8,373.8L606.6,373.6L607.5,373.5L608.0,373.5L608.7,373.5L609.5,373.5L610.3,373.5L611.1,373.5L611.8,373.5L612.4,373.5L613.2,373.5L614.0,373.5L614.8,373.4L615.6,373.3L616.4,373.3L617.2,373.2L618.1,373.1L618.9,373.1L619.7,373.1L620.5,373.1L621.3,373.2L622.1,373.3L623.0,373.4L623.8,373.6L624.6,373.8L625.4,374.1L626.0,374.2L626.6,374.4L627.4,374.7L628.2,374.9L629.1,375.2L629.9,375.5L630.4,375.7L631.1,375.9L631.9,376.2L632.5,376.4L633.1,376.7L634.0,377.0L634.8,377.4L635.6,377.8L636.4,378.3L637.2,378.8L637.9,379.3L638.4,379.7L638.9,380.0L639.3,380.4L639.7,380.7L640.1,381.0L640.5,381.4L640.9,381.7L641.3,382.1L641.7,382.4L642.1,382.8L642.5,383.1L642.9,383.5L643.3,383.9L643.7,384.3L644.2,384.7L644.6,385.1L645.0,385.6L645.4,386.0L645.8,386.5L646.2,387.0L646.6,387.5L647.0,388.0L647.4,388.6L647.8,389.2L648.2,389.7L648.6,390.2L649.0,390.9L649.5,391.4L649.9,391.9L650.2,392.4L650.7,392.9L651.1,393.4L651.5,393.8L651.9,394.2L652.3,394.5L652.7,394.9L653.4,395.3Z"/><path fill="#62bda7" fill-rule="evenodd" d="M650.3,383.8L651.1,384.2L651.9,384.2L652.5,383.7L652.7,383.2L653.0,382.2L653.0,381.5L653.1,380.8L653.1,380.0L653.1,379.3L653.0,378.6L652.9,377.9L652.8,377.1L652.7,376.4L652.6,375.7L652.5,374.9L652.3,374.2L652.2,373.5L652.0,372.8L651.8,372.0L651.6,371.3L651.4,370.6L651.2,369.9L651.0,369.1L650.7,368.4L650.5,367.7L650.3,367.1L649.9,366.2L649.7,365.5L649.5,365.0L649.1,364.1L648.8,363.3L648.5,362.6L648.2,362.0L647.9,361.1L647.6,360.4L647.3,359.7L647.0,359.1L646.6,358.2L646.3,357.5L646.0,356.8L645.8,356.3L645.4,355.4L645.0,354.6L644.7,353.9L644.4,353.2L644.2,352.6L643.7,351.7L643.4,351.0L643.1,350.3L642.7,349.5L642.5,349.0L642.1,348.1L641.8,347.3L641.4,346.6L641.1,345.9L640.8,345.2L640.5,344.6L640.1,343.7L639.7,343.0L639.4,342.3L639.0,341.5L638.6,340.8L638.3,340.1L637.9,339.4L637.4,338.6L637.0,337.9L636.5,337.2L636.0,336.5L635.6,335.9L635.2,335.4L634.8,335.0L634.4,334.5L634.0,334.1L633.6,333.7L633.1,333.4L632.7,333.1L632.3,332.8L631.9,332.5L631.4,332.1L630.7,331.7L630.2,331.4L629.5,331.0L628.9,330.6L628.3,330.2L627.8,329.9L627.0,329.4L626.6,329.1L626.2,328.7L625.8,328.4L625.4,328.0L625.0,327.7L624.6,327.3L624.2,326.8L623.8,326.4L623.4,326.0L623.0,325.6L622.5,325.2L622.1,324.8L621.7,324.4L621.3,324.0L620.9,323.6L620.5,323.2L620.1,322.8L619.7,322.5L619.3,322.1L618.9,321.8L618.5,321.5L618.1,321.2L617.7,320.9L617.1,320.5L616.4,320.1L615.9,319.8L615.2,319.4L614.4,319.1L613.6,318.8L612.8,318.6L611.9,318.5L611.1,318.5L610.3,318.5L609.5,318.6L608.7,318.8L607.9,319.0L607.0,319.2L606.2,319.5L605.6,319.8L605.0,320.0L604.2,320.4L603.4,320.8L602.7,321.2L602.2,321.5L601.4,321.9L600.9,322.2L600.3,322.7L599.7,323.0L599.3,323.3L598.9,323.7L598.5,324.0L598.1,324.4L597.7,324.8L597.3,325.2L596.9,325.7L596.4,326.2L596.0,326.7L595.6,327.3L595.3,327.7L594.9,328.5L594.4,329.2L594.0,329.9L593.6,330.6L593.2,331.3L592.8,332.1L592.4,332.8L592.0,333.6L591.7,334.3L591.3,335.0L591.0,335.7L590.7,336.3L590.3,337.2L590.0,337.9L589.7,338.6L589.4,339.4L589.1,340.0L588.8,340.8L588.5,341.5L588.3,342.0L587.9,343.0L587.7,343.7L587.5,344.2L587.2,345.2L586.9,345.9L586.7,346.6L586.4,347.3L586.3,348.0L586.0,348.8L585.8,349.5L585.6,350.3L585.5,351.0L585.3,351.7L585.1,352.4L585.0,353.0L584.9,353.9L584.7,354.6L584.6,355.3L584.5,356.1L584.4,356.8L584.4,357.5L584.3,358.2L584.3,359.0L584.2,359.7L584.2,360.4L584.2,361.1L584.3,361.9L584.3,362.6L584.4,363.3L584.5,364.1L584.6,364.7L584.8,365.5L585.0,366.2L585.3,367.0L585.7,367.7L586.1,368.4L586.7,369.1L587.1,369.5L587.5,369.8L588.3,370.2L589.1,370.5L589.9,370.7L590.7,370.8L591.6,370.9L592.4,370.9L593.2,371.0L594.0,371.0L594.8,371.0L595.6,371.0L596.4,370.9L597.3,370.8L598.1,370.7L598.7,370.6L599.3,370.4L600.1,370.2L600.9,369.9L601.7,369.5L602.6,369.2L603.4,368.8L604.2,368.4L605.0,368.1L605.8,367.8L606.4,367.7L607.0,367.5L607.9,367.4L608.7,367.3L609.5,367.2L610.3,367.2L611.1,367.1L611.9,367.1L612.8,367.1L613.6,367.1L614.4,367.1L615.2,367.1L616.0,367.1L616.8,367.1L617.7,367.1L618.5,367.1L619.3,367.2L620.1,367.3L620.9,367.4L621.7,367.5L622.4,367.7L623.0,367.8L623.8,368.0L624.6,368.3L625.4,368.6L626.2,368.9L626.9,369.1L627.4,369.3L628.3,369.6L628.9,369.9L629.5,370.1L630.3,370.3L631.1,370.6L631.9,370.9L632.7,371.1L633.2,371.3L634.0,371.6L634.8,371.9L635.6,372.2L636.4,372.6L637.2,373.1L638.0,373.5L638.4,373.8L639.1,374.2L639.7,374.6L640.1,374.9L640.9,375.5L641.3,375.8L641.7,376.1L642.1,376.4L642.5,376.7L642.9,377.0L643.3,377.3L643.7,377.7L644.2,378.0L644.6,378.3L645.0,378.7L645.4,379.0L645.8,379.4L646.2,379.8L646.6,380.2L647.0,380.6L647.4,381.1L647.8,381.5L648.2,381.9L648.6,382.3L649.0,382.7L649.5,383.1L649.9,383.5L650.3,383.8Z"/><path fill="#aedea3" fill-rule="evenodd" d="M646.2,374.3L647.0,374.5L647.8,374.4L648.2,374.1L648.5,373.5L648.5,372.8L648.5,372.0L648.5,371.3L648.4,370.6L648.2,369.9L648.1,369.1L647.9,368.4L647.7,367.7L647.5,367.0L647.3,366.2L647.0,365.5L646.8,364.8L646.6,364.2L646.3,363.3L646.0,362.6L645.8,362.0L645.5,361.1L645.2,360.4L645.0,359.8L644.6,359.0L644.3,358.2L644.0,357.5L643.7,356.9L643.4,356.1L643.1,355.3L642.7,354.6L642.5,354.1L642.1,353.2L641.8,352.4L641.4,351.7L641.1,351.0L640.9,350.5L640.5,349.6L640.1,348.8L639.8,348.1L639.4,347.3L639.1,346.6L638.7,345.9L638.4,345.4L638.0,344.6L637.6,343.8L637.2,343.1L636.8,342.4L636.4,341.7L636.0,341.1L635.6,340.5L635.3,340.1L634.8,339.4L634.4,338.9L634.0,338.5L633.6,338.1L633.1,337.7L632.7,337.3L632.3,337.0L631.9,336.6L631.5,336.3L631.1,336.0L630.6,335.7L629.9,335.2L629.1,334.7L628.4,334.3L627.8,333.9L627.3,333.6L626.6,333.0L626.2,332.7L625.8,332.3L625.4,331.9L625.0,331.6L624.6,331.2L624.2,330.7L623.8,330.3L623.4,329.9L623.0,329.5L622.5,329.0L622.1,328.6L621.7,328.2L621.3,327.8L620.9,327.3L620.5,327.0L620.1,326.6L619.7,326.2L619.3,325.8L618.9,325.5L618.5,325.2L618.1,324.8L617.7,324.5L617.0,324.1L616.4,323.7L615.8,323.4L615.2,323.1L614.4,322.7L613.6,322.4L612.8,322.2L611.9,322.1L611.1,322.1L610.3,322.1L609.5,322.2L608.7,322.3L607.9,322.5L607.0,322.8L606.2,323.1L605.6,323.4L605.0,323.7L604.2,324.1L603.4,324.6L603.0,324.8L602.2,325.3L601.3,325.9L600.9,326.2L600.5,326.5L600.1,326.8L599.7,327.1L599.3,327.5L598.9,327.9L598.5,328.3L598.1,328.7L597.7,329.2L597.3,329.7L596.9,330.2L596.4,330.8L596.1,331.4L595.6,332.1L595.2,332.7L594.8,333.4L594.4,334.2L594.0,334.9L593.6,335.7L593.2,336.5L592.9,337.2L592.5,337.9L592.2,338.6L591.8,339.4L591.6,340.0L591.2,340.8L590.9,341.5L590.5,342.3L590.3,342.8L589.9,343.7L589.7,344.4L589.4,345.2L589.1,345.9L588.8,346.6L588.6,347.3L588.3,348.1L588.1,348.8L587.9,349.5L587.7,350.3L587.5,350.9L587.3,351.7L587.1,352.4L586.9,353.2L586.8,353.9L586.7,354.5L586.5,355.3L586.4,356.1L586.3,356.8L586.3,357.4L586.2,358.2L586.1,359.0L586.1,359.7L586.1,360.4L586.2,361.1L586.2,361.9L586.4,362.6L586.5,363.3L586.7,363.9L587.0,364.8L587.4,365.5L587.8,366.2L588.3,366.7L588.7,367.1L589.5,367.6L590.3,367.9L591.1,368.1L592.0,368.3L592.8,368.4L593.6,368.4L594.4,368.4L595.2,368.4L596.0,368.3L596.9,368.2L597.7,368.1L598.5,367.9L599.1,367.7L599.7,367.5L600.5,367.1L601.3,366.8L602.2,366.3L603.0,365.9L603.8,365.5L604.6,365.1L605.4,364.8L606.2,364.5L607.0,364.3L607.9,364.1L608.7,364.0L609.5,363.9L610.3,363.8L611.1,363.8L611.9,363.7L612.8,363.7L613.6,363.7L614.4,363.7L615.2,363.8L616.0,363.8L616.8,363.8L617.7,363.8L618.5,363.9L619.3,364.0L620.1,364.1L620.9,364.3L621.7,364.4L622.5,364.6L623.1,364.8L623.8,365.0L624.6,365.3L625.2,365.5L625.8,365.7L626.6,366.0L627.1,366.2L627.8,366.5L628.7,366.8L629.5,367.1L630.3,367.4L631.1,367.7L631.9,367.9L632.7,368.1L633.6,368.4L634.4,368.6L635.2,368.9L635.9,369.1L636.4,369.3L637.2,369.7L637.7,369.9L638.4,370.2L639.1,370.6L639.7,370.9L640.4,371.3L640.9,371.6L641.6,372.0L642.1,372.3L642.9,372.8L643.7,373.2L644.4,373.5L645.0,373.8L645.8,374.1Z"/><path fill="#e9f69d" fill-rule="evenodd" d="M640.9,367.7L641.7,367.8L642.5,367.8L643.3,367.3L643.7,366.4L643.9,365.5L643.8,364.8L643.7,364.1L643.6,363.3L643.5,362.6L643.3,361.9L643.1,361.1L642.8,360.4L642.6,359.7L642.3,359.0L642.1,358.4L641.8,357.5L641.5,356.8L641.3,356.3L640.9,355.3L640.6,354.6L640.3,353.9L640.1,353.4L639.7,352.5L639.3,351.7L639.0,351.0L638.7,350.3L638.4,349.8L638.0,348.9L637.6,348.1L637.3,347.3L636.9,346.6L636.5,345.9L636.1,345.2L635.6,344.4L635.2,343.8L634.8,343.2L634.4,342.6L634.0,342.1L633.6,341.7L633.1,341.2L632.7,340.8L632.3,340.4L631.9,340.0L631.5,339.7L631.1,339.4L630.7,339.1L630.3,338.8L629.5,338.2L629.0,337.9L628.3,337.4L627.4,336.8L627.0,336.5L626.6,336.2L626.2,335.8L625.8,335.5L625.4,335.1L625.0,334.7L624.6,334.3L624.2,333.8L623.8,333.4L623.4,333.0L623.0,332.5L622.6,332.1L622.1,331.6L621.7,331.2L621.3,330.7L620.9,330.3L620.5,329.9L620.1,329.5L619.7,329.1L619.3,328.7L618.9,328.4L618.5,328.0L618.1,327.7L617.7,327.4L617.2,327.1L616.4,326.5L615.6,326.1L614.8,325.7L614.0,325.3L613.2,325.1L612.4,324.9L611.5,324.9L610.7,324.8L609.9,324.9L609.1,325.0L608.3,325.2L607.5,325.4L607.0,325.6L606.2,325.9L605.4,326.3L604.6,326.7L604.1,327.0L603.4,327.5L602.6,328.0L602.2,328.3L601.7,328.6L601.3,328.9L600.9,329.3L600.5,329.6L600.1,330.0L599.7,330.4L599.3,330.8L598.9,331.2L598.5,331.7L598.1,332.1L597.7,332.7L597.3,333.2L596.9,333.8L596.6,334.3L596.1,335.0L595.7,335.7L595.3,336.5L594.9,337.2L594.6,337.9L594.2,338.6L593.8,339.4L593.6,339.9L593.2,340.8L592.8,341.5L592.5,342.3L592.2,343.0L592.0,343.6L591.6,344.4L591.3,345.2L591.0,345.9L590.7,346.6L590.5,347.3L590.2,348.1L589.9,348.8L589.7,349.5L589.5,350.1L589.2,351.0L589.0,351.7L588.8,352.4L588.7,352.9L588.5,353.9L588.3,354.6L588.2,355.3L588.1,356.1L588.0,356.8L587.9,357.5L587.9,358.2L587.8,359.0L587.8,359.7L587.9,360.4L588.0,361.1L588.1,361.9L588.3,362.5L588.6,363.3L589.0,364.1L589.5,364.6L589.9,365.0L590.7,365.5L591.6,365.8L592.4,366.1L593.2,366.2L594.0,366.2L594.8,366.2L595.6,366.2L596.4,366.1L597.3,366.0L598.1,365.8L598.9,365.5L599.7,365.2L600.5,364.9L601.3,364.4L602.0,364.1L602.6,363.8L603.4,363.3L604.2,362.9L604.8,362.6L605.4,362.4L606.2,362.1L606.8,361.9L607.5,361.7L608.3,361.5L609.1,361.4L609.9,361.3L610.7,361.2L611.5,361.2L612.4,361.1L613.2,361.1L614.0,361.1L614.8,361.2L615.6,361.2L616.4,361.2L617.2,361.3L618.1,361.4L618.9,361.5L619.7,361.6L620.5,361.8L621.1,361.9L621.7,362.0L622.5,362.2L623.4,362.4L623.9,362.6L624.6,362.8L625.4,363.2L626.2,363.5L627.0,363.8L627.6,364.1L628.3,364.3L629.1,364.6L629.5,364.8L630.3,365.0L631.1,365.3L631.9,365.5L632.7,365.7L633.6,365.8L634.4,366.0L635.2,366.2L636.0,366.4L636.8,366.5L637.6,366.7L638.4,367.0L639.3,367.2L640.1,367.5L640.9,367.7Z"/><path fill="#fffcba" fill-rule="evenodd" d="M593.6,364.1L594.4,364.2L595.2,364.2L596.0,364.2L596.9,364.1L597.7,363.9L598.5,363.7L599.3,363.4L600.1,363.1L600.9,362.6L601.7,362.2L602.3,361.9L603.0,361.5L603.6,361.1L604.2,360.8L605.0,360.4L605.8,360.1L606.6,359.8L607.5,359.6L608.3,359.4L609.1,359.2L609.9,359.1L610.7,359.0L611.3,359.0L611.9,358.9L612.8,358.9L613.6,358.9L614.4,359.0L615.2,359.0L616.0,359.0L616.8,359.1L617.7,359.2L618.5,359.3L619.3,359.4L620.1,359.5L620.9,359.7L621.7,359.9L622.5,360.1L623.4,360.3L624.2,360.5L625.0,360.8L625.8,361.1L626.6,361.5L627.4,361.8L628.3,362.2L629.1,362.5L629.9,362.7L630.7,362.9L631.5,363.1L632.3,363.3L633.1,363.4L634.0,363.4L634.8,363.5L635.6,363.5L636.4,363.4L637.2,363.3L638.0,363.1L638.9,362.7L639.3,362.2L639.7,361.1L639.7,360.4L639.7,359.7L639.6,359.0L639.4,358.2L639.3,357.5L639.1,356.8L638.9,356.1L638.6,355.3L638.4,354.9L638.1,353.9L637.8,353.2L637.6,352.7L637.2,351.7L636.9,351.0L636.6,350.3L636.3,349.5L636.0,349.0L635.6,348.2L635.2,347.5L634.8,346.8L634.4,346.2L634.0,345.6L633.7,345.2L633.1,344.5L632.7,344.0L632.3,343.6L631.9,343.2L631.5,342.8L631.1,342.4L630.7,342.1L630.3,341.7L629.9,341.4L629.5,341.1L629.1,340.8L628.7,340.5L628.3,340.2L627.8,339.9L627.4,339.6L627.0,339.3L626.6,339.0L626.2,338.6L625.8,338.2L625.4,337.9L625.0,337.5L624.6,337.0L624.2,336.6L623.8,336.1L623.4,335.7L623.0,335.2L622.5,334.7L622.1,334.3L621.7,333.8L621.3,333.3L620.9,332.9L620.5,332.5L620.1,332.0L619.7,331.6L619.3,331.2L618.9,330.9L618.5,330.5L618.1,330.2L617.7,329.8L617.2,329.5L616.8,329.2L616.0,328.7L615.2,328.2L614.4,327.9L613.6,327.6L612.8,327.4L611.9,327.2L611.1,327.2L610.3,327.2L609.5,327.2L608.7,327.4L607.9,327.6L607.0,327.9L606.2,328.2L605.7,328.5L605.0,328.9L604.5,329.2L603.8,329.7L603.0,330.3L602.6,330.6L602.2,330.9L601.7,331.2L601.3,331.6L600.9,331.9L600.5,332.3L600.1,332.7L599.7,333.1L599.3,333.6L598.9,334.1L598.5,334.6L598.2,335.0L597.7,335.7L597.3,336.4L596.9,337.0L596.4,337.7L596.0,338.5L595.6,339.3L595.2,340.1L594.9,340.8L594.6,341.5L594.2,342.3L594.0,342.8L593.6,343.7L593.3,344.4L593.0,345.2L592.8,345.8L592.5,346.6L592.2,347.3L592.0,348.0L591.7,348.8L591.4,349.5L591.2,350.3L590.9,351.0L590.7,351.7L590.5,352.4L590.3,353.2L590.2,353.9L590.0,354.6L589.9,355.3L589.8,356.1L589.7,356.8L589.6,357.5L589.6,358.2L589.6,359.0L589.6,359.7L589.8,360.4L589.9,361.0L590.3,361.9L590.7,362.5L591.1,363.0L591.6,363.3L592.4,363.7L593.2,364.0Z"/><path fill="#fede89" fill-rule="evenodd" d="M594.4,361.9L595.2,362.1L596.0,362.2L596.9,362.2L597.7,362.0L598.3,361.9L598.9,361.7L599.7,361.4L600.2,361.1L600.9,360.8L601.5,360.4L602.2,360.1L602.8,359.7L603.4,359.4L604.1,359.0L604.6,358.7L605.4,358.4L606.2,358.0L607.0,357.8L607.9,357.5L608.7,357.4L609.5,357.2L610.3,357.1L611.1,357.0L611.9,357.0L612.8,356.9L613.6,356.9L614.4,357.0L615.2,357.0L616.0,357.1L616.8,357.1L617.7,357.2L618.5,357.3L619.3,357.4L619.8,357.5L620.5,357.6L621.3,357.8L622.1,357.9L623.0,358.1L623.5,358.2L624.2,358.4L625.0,358.7L625.6,359.0L626.2,359.2L627.0,359.5L627.8,359.9L628.7,360.2L629.5,360.4L630.3,360.6L631.1,360.7L631.9,360.8L632.7,360.8L633.6,360.7L634.4,360.5L635.2,360.0L635.6,359.6L636.0,359.0L636.2,358.2L636.3,357.5L636.3,356.8L636.3,356.1L636.2,355.3L636.0,354.6L635.8,353.9L635.6,353.2L635.3,352.4L635.0,351.7L634.8,351.1L634.4,350.3L634.0,349.5L633.6,348.8L633.2,348.1L632.7,347.5L632.3,346.9L631.9,346.4L631.5,345.9L631.1,345.5L630.7,345.1L630.3,344.7L629.9,344.4L629.5,344.0L629.1,343.7L628.7,343.4L628.3,343.0L627.8,342.7L627.4,342.4L627.0,342.1L626.6,341.7L626.2,341.3L625.8,341.0L625.4,340.6L625.0,340.1L624.6,339.7L624.2,339.2L623.8,338.7L623.4,338.2L623.0,337.7L622.5,337.2L622.1,336.8L621.7,336.3L621.3,335.8L620.9,335.3L620.5,334.8L620.1,334.4L619.7,334.0L619.3,333.6L618.9,333.1L618.5,332.8L618.1,332.4L617.7,332.1L617.2,331.7L616.8,331.4L616.0,330.9L615.2,330.4L614.4,330.0L613.6,329.7L612.8,329.5L611.9,329.3L611.1,329.3L610.3,329.3L609.5,329.3L608.7,329.5L607.9,329.7L607.2,329.9L606.6,330.1L605.8,330.6L605.0,331.0L604.5,331.4L603.8,331.9L603.4,332.2L603.0,332.5L602.6,332.9L602.2,333.2L601.7,333.6L601.3,334.0L600.9,334.4L600.5,334.8L600.1,335.2L599.7,335.7L599.3,336.2L598.9,336.7L598.6,337.2L598.1,337.9L597.7,338.6L597.3,339.3L596.9,340.1L596.5,340.8L596.1,341.5L595.8,342.3L595.5,343.0L595.2,343.6L594.9,344.4L594.6,345.2L594.3,345.9L594.0,346.6L593.8,347.3L593.6,347.9L593.3,348.8L593.0,349.5L592.8,350.3L592.6,351.0L592.4,351.7L592.2,352.4L592.0,353.2L591.9,353.9L591.7,354.6L591.6,355.3L591.6,356.0L591.5,356.8L591.5,357.5L591.5,358.2L591.7,359.0L591.9,359.7L592.3,360.4L592.8,361.0L593.2,361.4L594.0,361.8Z"/><path fill="#fdb365" fill-rule="evenodd" d="M595.6,359.8L596.4,360.0L597.3,360.1L598.1,360.0L598.9,359.8L599.7,359.5L600.5,359.1L601.3,358.7L602.1,358.2L603.0,357.8L603.4,357.5L604.2,357.1L604.9,356.8L605.4,356.5L606.2,356.2L606.8,356.1L607.5,355.9L608.3,355.6L609.1,355.5L609.7,355.3L610.3,355.2L611.1,355.1L611.9,355.1L612.8,355.1L613.6,355.1L614.4,355.1L615.2,355.1L616.0,355.2L616.8,355.3L617.7,355.3L618.5,355.4L619.3,355.5L620.1,355.6L620.9,355.7L621.7,355.8L622.5,355.9L623.4,356.1L624.2,356.2L625.0,356.4L625.8,356.7L626.6,357.0L627.4,357.3L628.0,357.5L628.7,357.7L629.5,357.9L630.3,358.0L631.1,357.9L631.9,357.6L632.7,356.9L633.1,356.1L633.2,355.3L633.2,354.6L633.2,353.9L633.0,353.2L632.8,352.4L632.5,351.7L632.2,351.0L631.9,350.5L631.5,349.8L631.1,349.2L630.7,348.6L630.3,348.1L629.9,347.7L629.5,347.3L629.1,346.9L628.7,346.5L628.3,346.1L627.8,345.8L627.4,345.4L627.0,345.1L626.6,344.7L626.2,344.3L625.8,343.9L625.4,343.4L625.0,343.0L624.6,342.5L624.2,342.0L623.9,341.5L623.4,340.9L623.0,340.3L622.5,339.8L622.2,339.4L621.7,338.7L621.3,338.2L620.9,337.7L620.5,337.2L620.1,336.7L619.7,336.2L619.3,335.8L618.9,335.3L618.5,334.9L618.1,334.6L617.7,334.2L617.2,333.8L616.8,333.5L616.4,333.2L615.8,332.8L615.2,332.4L614.5,332.1L614.0,331.9L613.2,331.6L612.4,331.4L611.5,331.3L610.7,331.2L609.9,331.2L609.1,331.3L608.3,331.5L607.5,331.8L606.7,332.1L605.8,332.6L605.4,332.8L604.6,333.4L604.2,333.7L603.8,334.0L603.4,334.3L603.0,334.7L602.6,335.1L602.2,335.4L601.7,335.8L601.3,336.3L600.9,336.7L600.5,337.2L600.1,337.7L599.7,338.2L599.4,338.6L598.9,339.3L598.5,340.0L598.1,340.7L597.7,341.5L597.3,342.3L596.9,343.0L596.6,343.7L596.3,344.4L596.0,345.1L595.7,345.9L595.5,346.6L595.2,347.3L595.0,348.1L594.8,348.7L594.6,349.5L594.4,350.1L594.2,351.0L594.0,351.7L593.9,352.4L593.7,353.2L593.6,353.9L593.6,354.6L593.5,355.3L593.5,356.1L593.6,356.8L593.7,357.5L594.0,358.2L594.4,358.9L594.8,359.3L595.2,359.6Z"/><path fill="#f67c4a" fill-rule="evenodd" d="M596.9,357.5L597.7,357.8L598.5,357.9L599.3,357.7L600.0,357.5L600.5,357.3L601.3,356.9L602.2,356.5L602.9,356.1L603.4,355.8L604.2,355.4L605.0,355.0L605.8,354.7L606.6,354.4L607.5,354.2L608.3,354.0L609.1,353.8L609.9,353.6L610.7,353.5L611.5,353.4L612.4,353.3L613.2,353.3L614.0,353.3L614.8,353.3L615.6,353.4L616.4,353.4L617.2,353.5L618.1,353.5L618.9,353.6L619.7,353.6L620.5,353.7L621.3,353.7L622.1,353.6L623.0,353.6L623.8,353.6L624.6,353.5L625.4,353.6L626.2,353.6L627.0,353.6L627.8,353.6L628.5,353.2L628.7,352.4L628.6,351.7L628.3,351.0L627.8,350.3L627.4,349.7L627.0,349.2L626.6,348.7L626.2,348.1L625.8,347.6L625.4,347.0L625.0,346.4L624.7,345.9L624.2,345.2L623.8,344.5L623.4,343.8L623.0,343.2L622.5,342.5L622.1,341.9L621.7,341.3L621.4,340.8L620.9,340.1L620.5,339.5L620.1,339.0L619.7,338.5L619.3,338.0L618.9,337.5L618.5,337.1L618.1,336.6L617.7,336.2L617.2,335.9L616.8,335.5L616.4,335.2L616.0,334.9L615.2,334.4L614.4,333.9L613.6,333.6L612.8,333.3L611.9,333.2L611.1,333.1L610.3,333.1L609.5,333.1L608.7,333.2L607.9,333.4L607.0,333.8L606.2,334.2L605.4,334.7L605.0,335.0L604.6,335.3L604.2,335.6L603.8,336.0L603.4,336.4L603.0,336.7L602.6,337.1L602.2,337.6L601.7,338.0L601.3,338.5L600.9,338.9L600.6,339.4L600.1,340.0L599.7,340.6L599.3,341.3L598.9,342.0L598.5,342.7L598.1,343.5L597.7,344.4L597.4,345.2L597.1,345.9L596.9,346.6L596.6,347.3L596.4,347.8L596.2,348.8L596.0,349.3L595.8,350.3L595.7,351.0L595.5,351.7L595.5,352.4L595.4,353.2L595.4,353.9L595.4,354.6L595.5,355.3L595.6,355.9L596.0,356.8L596.4,357.2L596.9,357.5Z"/><path fill="#df4e4b" fill-rule="evenodd" d="M598.9,354.8L599.7,354.9L600.5,354.8L601.1,354.6L601.7,354.3L602.6,354.0L603.4,353.6L604.2,353.2L605.0,352.9L605.8,352.6L606.5,352.4L607.0,352.3L607.9,352.0L608.7,351.8L609.2,351.7L609.9,351.5L610.7,351.4L611.5,351.3L612.4,351.2L613.2,351.2L614.0,351.2L614.8,351.2L615.6,351.2L616.4,351.2L617.2,351.2L618.1,351.1L618.9,351.1L619.4,351.0L620.1,350.8L620.9,350.4L621.7,349.7L622.1,348.8L622.2,348.1L622.1,347.4L622.0,346.6L621.8,345.9L621.5,345.2L621.3,344.6L620.9,343.7L620.5,343.0L620.1,342.3L619.7,341.5L619.3,340.9L618.9,340.4L618.5,339.8L618.1,339.4L617.7,338.9L617.2,338.4L616.8,338.0L616.4,337.7L616.0,337.3L615.6,337.0L614.8,336.5L614.0,336.1L613.2,335.7L612.4,335.5L611.5,335.3L610.7,335.2L609.9,335.2L609.1,335.3L608.3,335.5L607.5,335.7L607.0,335.9L606.2,336.4L605.4,337.0L605.0,337.3L604.6,337.6L604.2,338.0L603.8,338.4L603.4,338.8L603.0,339.3L602.6,339.7L602.2,340.2L601.7,340.7L601.3,341.3L600.9,341.8L600.6,342.3L600.2,343.0L599.8,343.7L599.4,344.4L599.1,345.2L598.9,345.6L598.5,346.6L598.3,347.3L598.1,348.0L597.9,348.8L597.7,349.5L597.6,350.3L597.5,351.0L597.5,351.7L597.5,352.4L597.6,353.2L597.9,353.9L598.5,354.6Z"/><path fill="#b61b48" fill-rule="evenodd" d="M601.3,350.5L602.2,350.6L603.0,350.6L603.8,350.4L604.6,350.3L605.4,350.1L606.2,349.9L607.0,349.7L607.9,349.5L608.7,349.3L609.5,349.1L610.3,348.9L611.1,348.7L611.9,348.6L612.8,348.5L613.6,348.4L614.4,348.3L615.2,348.2L615.8,348.1L616.4,347.9L617.2,347.5L617.7,347.1L618.0,346.6L618.2,345.9L618.2,345.2L618.1,344.4L617.9,343.7L617.7,343.2L617.2,342.4L616.8,341.8L616.4,341.2L616.1,340.8L615.6,340.3L615.2,339.9L614.8,339.6L614.4,339.3L613.6,338.8L612.8,338.5L611.9,338.2L611.1,338.0L610.3,337.9L609.5,337.9L608.7,338.0L607.9,338.3L607.0,338.6L606.2,339.2L605.8,339.5L605.4,339.8L605.0,340.2L604.6,340.7L604.2,341.2L603.8,341.7L603.4,342.2L603.0,342.8L602.6,343.4L602.2,344.1L601.7,344.9L601.3,345.8L601.0,346.6L600.8,347.3L600.7,348.1L600.6,348.8L600.7,349.5L600.9,350.1L601.3,350.5Z"/></g>
<polyline points="84.91,434.50 85.42,423.05 85.94,418.34 86.45,414.76 86.96,411.76 87.47,409.15 87.98,406.80 88.49,404.66 89.00,402.68 89.51,400.83 90.02,399.11 90.53,397.48 91.04,395.93 91.55,394.47 92.06,393.07 92.57,391.73 93.08,390.44 93.59,389.21 94.10,388.03 94.61,386.88 95.12,385.78 95.63,384.72 96.14,383.69 96.65,382.69 97.16,381.73 97.67,380.79 98.18,379.89 98.69,379.01 99.20,378.15 99.71,377.32 100.22,376.51 100.74,375.73 101.25,374.97 101.76,374.22 102.27,373.50 102.78,372.80 103.29,372.11 103.80,371.44 104.31,370.79 104.82,370.16 105.33,369.54 105.84,368.94 106.35,368.36 106.86,367.78 107.37,367.23 107.88,366.69 108.39,366.16 108.90,365.64 109.41,365.14 109.92,364.66 110.43,364.18 110.94,363.72 111.45,363.27 111.96,362.83 112.47,362.40 112.98,361.99 113.49,361.59 114.00,361.19 114.52,360.81 115.03,360.44 115.54,360.08 116.05,359.73 116.56,359.39 117.07,359.07 117.58,358.75 118.09,358.44 118.60,358.14 119.11,357.85 119.62,357.57 120.13,357.30 120.64,357.04 121.15,356.79 121.66,356.55 122.17,356.32 122.68,356.10 123.19,355.88 123.70,355.68 124.21,355.48 124.72,355.29 125.23,355.11 125.74,354.94 126.25,354.78 126.76,354.63 127.27,354.48 127.78,354.35 128.29,354.22 128.81,354.10 129.32,353.99 129.83,353.89 130.34,353.80 130.85,353.71 131.36,353.63 131.87,353.56 132.38,353.50 132.89,353.45 133.40,353.40 133.91,353.37 134.42,353.34 134.93,353.32 135.44,353.31 135.95,353.30 136.46,353.31 136.97,353.32 137.48,353.34 137.99,353.37 138.50,353.40 139.01,353.45 139.52,353.50 140.03,353.56 140.54,353.63 141.05,353.71 141.56,353.80 142.07,353.89 142.58,353.99 143.09,354.10 143.61,354.22 144.12,354.35 144.63,354.48 145.14,354.63 145.65,354.78 146.16,354.94 146.67,355.11 147.18,355.29 147.69,355.48 148.20,355.68 148.71,355.88 149.22,356.10 149.73,356.32 150.24,356.55 150.75,356.79 151.26,357.04 151.77,357.30 152.28,357.57 152.79,357.85 153.30,358.14 153.81,358.44 154.32,358.75 154.83,359.07 155.34,359.39 155.85,359.73 156.36,360.08 156.87,360.44 157.38,360.81 157.90,361.19 158.41,361.59 158.92,361.99 159.43,362.40 159.94,362.83 160.45,363.27 160.96,363.72 161.47,364.18 161.98,364.66 162.49,365.14 163.00,365.64 163.51,366.16 164.02,366.69 164.53,367.23 165.04,367.78 165.55,368.36 166.06,368.94 166.57,369.54 167.08,370.16 167.59,370.79 168.10,371.44 168.61,372.11 169.12,372.80 169.63,373.50 170.14,374.22 170.65,374.97 171.16,375.73 171.68,376.51 172.19,377.32 172.70,378.15 173.21,379.01 173.72,379.89 174.23,380.79 174.74,381.73 175.25,382.69 175.76,383.69 176.27,384.72 176.78,385.78 177.29,386.88 177.80,388.03 178.31,389.21 178.82,390.44 179.33,391.73 179.84,393.07 180.35,394.47 180.86,395.93 181.37,397.48 181.88,399.11 182.39,400.83 182.90,402.68 183.41,404.66 183.92,406.80 184.43,409.15 184.94,411.76 185.45,414.76 185.97,418.34 186.48,423.05 186.99,434.50" fill="none" stroke="#0a0a0a" stroke-width="2.35"/>
<g fill="#fff" stroke="#000" stroke-width="0.95"><circle cx="108.10" cy="349.60" r="2.65"/><circle cx="112.90" cy="339.00" r="2.65"/><circle cx="118.10" cy="332.25" r="2.65"/><circle cx="123.40" cy="330.00" r="2.65"/><circle cx="128.40" cy="326.25" r="2.65"/><circle cx="133.40" cy="325.40" r="2.65"/><circle cx="138.75" cy="326.90" r="2.65"/><circle cx="143.75" cy="330.25" r="2.65"/><circle cx="149.05" cy="335.60" r="2.65"/><circle cx="154.00" cy="341.90" r="2.65"/><circle cx="159.40" cy="352.50" r="2.65"/><circle cx="164.40" cy="360.25" r="2.65"/><circle cx="169.40" cy="367.50" r="2.65"/><circle cx="174.40" cy="377.75" r="2.65"/><circle cx="179.60" cy="390.00" r="2.65"/><circle cx="183.75" cy="405.00" r="2.65"/></g>
<rect x="64.50" y="289.25" width="142.90" height="145.25" fill="none" stroke="#262626" stroke-width="1.3"/>
<text class="r" x="52.90" y="439.80" font-size="15" text-anchor="end" font-weight="normal" fill="#262626" >0.0</text>
<text class="r" x="52.90" y="403.49" font-size="15" text-anchor="end" font-weight="normal" fill="#262626" >0.1</text>
<text class="r" x="52.90" y="367.18" font-size="15" text-anchor="end" font-weight="normal" fill="#262626" >0.2</text>
<text class="r" x="52.90" y="330.86" font-size="15" text-anchor="end" font-weight="normal" fill="#262626" >0.3</text>
<text class="r" x="52.90" y="294.55" font-size="15" text-anchor="end" font-weight="normal" fill="#262626" >0.4</text>
<text class="r" x="84.91" y="456.00" font-size="15" text-anchor="middle" font-weight="normal" fill="#262626" >0.0</text>
<text class="r" x="135.95" y="456.00" font-size="15" text-anchor="middle" font-weight="normal" fill="#262626" >0.5</text>
<text class="r" x="186.99" y="456.00" font-size="15" text-anchor="middle" font-weight="normal" fill="#262626" >1.0</text>
<text class="r" x="122.08" y="474.50" font-size="15.5" fill="#262626">E<tspan font-size="10.8" dy="4.8">raw</tspan></text>
<text class="r" transform="translate(23.50,362.38) rotate(-90)" font-size="15.5" text-anchor="middle" fill="#262626">s<tspan font-size="10.8" dy="4.8">i</tspan></text>
<polyline points="328.23,434.50 328.74,423.05 329.25,418.34 329.76,414.76 330.27,411.76 330.78,409.15 331.29,406.80 331.80,404.66 332.31,402.68 332.82,400.83 333.34,399.11 333.85,397.48 334.36,395.93 334.87,394.47 335.38,393.07 335.89,391.73 336.40,390.44 336.91,389.21 337.42,388.03 337.93,386.88 338.44,385.78 338.95,384.72 339.46,383.69 339.98,382.69 340.49,381.73 341.00,380.79 341.51,379.89 342.02,379.01 342.53,378.15 343.04,377.32 343.55,376.51 344.06,375.73 344.57,374.97 345.08,374.22 345.59,373.50 346.10,372.80 346.61,372.11 347.12,371.44 347.64,370.79 348.15,370.16 348.66,369.54 349.17,368.94 349.68,368.36 350.19,367.78 350.70,367.23 351.21,366.69 351.72,366.16 352.23,365.64 352.74,365.14 353.25,364.66 353.76,364.18 354.28,363.72 354.79,363.27 355.30,362.83 355.81,362.40 356.32,361.99 356.83,361.59 357.34,361.19 357.85,360.81 358.36,360.44 358.87,360.08 359.38,359.73 359.89,359.39 360.40,359.07 360.91,358.75 361.43,358.44 361.94,358.14 362.45,357.85 362.96,357.57 363.47,357.30 363.98,357.04 364.49,356.79 365.00,356.55 365.51,356.32 366.02,356.10 366.53,355.88 367.04,355.68 367.55,355.48 368.06,355.29 368.57,355.11 369.09,354.94 369.60,354.78 370.11,354.63 370.62,354.48 371.13,354.35 371.64,354.22 372.15,354.10 372.66,353.99 373.17,353.89 373.68,353.80 374.19,353.71 374.70,353.63 375.21,353.56 375.73,353.50 376.24,353.45 376.75,353.40 377.26,353.37 377.77,353.34 378.28,353.32 378.79,353.31 379.30,353.30 379.81,353.31 380.32,353.32 380.83,353.34 381.34,353.37 381.85,353.40 382.36,353.45 382.88,353.50 383.39,353.56 383.90,353.63 384.41,353.71 384.92,353.80 385.43,353.89 385.94,353.99 386.45,354.10 386.96,354.22 387.47,354.35 387.98,354.48 388.49,354.63 389.00,354.78 389.51,354.94 390.03,355.11 390.54,355.29 391.05,355.48 391.56,355.68 392.07,355.88 392.58,356.10 393.09,356.32 393.60,356.55 394.11,356.79 394.62,357.04 395.13,357.30 395.64,357.57 396.15,357.85 396.66,358.14 397.18,358.44 397.69,358.75 398.20,359.07 398.71,359.39 399.22,359.73 399.73,360.08 400.24,360.44 400.75,360.81 401.26,361.19 401.77,361.59 402.28,361.99 402.79,362.40 403.30,362.83 403.81,363.27 404.33,363.72 404.84,364.18 405.35,364.66 405.86,365.14 406.37,365.64 406.88,366.16 407.39,366.69 407.90,367.23 408.41,367.78 408.92,368.36 409.43,368.94 409.94,369.54 410.45,370.16 410.96,370.79 411.48,371.44 411.99,372.11 412.50,372.80 413.01,373.50 413.52,374.22 414.03,374.97 414.54,375.73 415.05,376.51 415.56,377.32 416.07,378.15 416.58,379.01 417.09,379.89 417.60,380.79 418.11,381.73 418.62,382.69 419.14,383.69 419.65,384.72 420.16,385.78 420.67,386.88 421.18,388.03 421.69,389.21 422.20,390.44 422.71,391.73 423.22,393.07 423.73,394.47 424.24,395.93 424.75,397.48 425.26,399.11 425.78,400.83 426.29,402.68 426.80,404.66 427.31,406.80 427.82,409.15 428.33,411.76 428.84,414.76 429.35,418.34 429.86,423.05 430.37,434.50" fill="none" stroke="#0a0a0a" stroke-width="2.35"/>
<g fill="#fff" stroke="#000" stroke-width="0.95"><circle cx="351.60" cy="359.60" r="2.65"/><circle cx="356.90" cy="354.40" r="2.65"/><circle cx="361.90" cy="349.60" r="2.65"/><circle cx="366.90" cy="346.00" r="2.65"/><circle cx="371.90" cy="344.60" r="2.65"/><circle cx="376.90" cy="342.50" r="2.65"/><circle cx="382.10" cy="341.00" r="2.65"/><circle cx="387.10" cy="343.40" r="2.65"/><circle cx="392.40" cy="346.00" r="2.65"/><circle cx="397.50" cy="349.50" r="2.65"/><circle cx="402.75" cy="355.00" r="2.65"/><circle cx="407.80" cy="360.80" r="2.65"/><circle cx="412.50" cy="368.50" r="2.65"/><circle cx="417.90" cy="378.50" r="2.65"/><circle cx="422.50" cy="390.00" r="2.65"/></g>
<rect x="307.80" y="289.25" width="143.00" height="145.25" fill="none" stroke="#262626" stroke-width="1.3"/>
<text class="r" x="296.20" y="439.80" font-size="15" text-anchor="end" font-weight="normal" fill="#262626" >0.0</text>
<text class="r" x="296.20" y="403.49" font-size="15" text-anchor="end" font-weight="normal" fill="#262626" >0.1</text>
<text class="r" x="296.20" y="367.18" font-size="15" text-anchor="end" font-weight="normal" fill="#262626" >0.2</text>
<text class="r" x="296.20" y="330.86" font-size="15" text-anchor="end" font-weight="normal" fill="#262626" >0.3</text>
<text class="r" x="296.20" y="294.55" font-size="15" text-anchor="end" font-weight="normal" fill="#262626" >0.4</text>
<text class="r" x="328.23" y="456.00" font-size="15" text-anchor="middle" font-weight="normal" fill="#262626" >0.0</text>
<text class="r" x="379.30" y="456.00" font-size="15" text-anchor="middle" font-weight="normal" fill="#262626" >0.5</text>
<text class="r" x="430.37" y="456.00" font-size="15" text-anchor="middle" font-weight="normal" fill="#262626" >1.0</text>
<text class="r" x="365.43" y="474.50" font-size="15.5" fill="#262626">E<tspan font-size="10.8" dy="4.8">raw</tspan></text>
<text class="r" transform="translate(266.80,362.38) rotate(-90)" font-size="15.5" text-anchor="middle" fill="#262626">s<tspan font-size="10.8" dy="4.8">i</tspan></text>
<polyline points="561.39,434.50 561.90,423.05 562.40,418.34 562.91,414.76 563.42,411.76 563.93,409.15 564.44,406.80 564.95,404.66 565.46,402.68 565.97,400.83 566.48,399.11 566.99,397.48 567.50,395.93 568.01,394.47 568.52,393.07 569.03,391.73 569.54,390.44 570.05,389.21 570.56,388.03 571.07,386.88 571.58,385.78 572.09,384.72 572.60,383.69 573.11,382.69 573.62,381.73 574.13,380.79 574.64,379.89 575.15,379.01 575.66,378.15 576.17,377.32 576.67,376.51 577.18,375.73 577.69,374.97 578.20,374.22 578.71,373.50 579.22,372.80 579.73,372.11 580.24,371.44 580.75,370.79 581.26,370.16 581.77,369.54 582.28,368.94 582.79,368.36 583.30,367.78 583.81,367.23 584.32,366.69 584.83,366.16 585.34,365.64 585.85,365.14 586.36,364.66 586.87,364.18 587.38,363.72 587.89,363.27 588.40,362.83 588.91,362.40 589.42,361.99 589.93,361.59 590.44,361.19 590.94,360.81 591.45,360.44 591.96,360.08 592.47,359.73 592.98,359.39 593.49,359.07 594.00,358.75 594.51,358.44 595.02,358.14 595.53,357.85 596.04,357.57 596.55,357.30 597.06,357.04 597.57,356.79 598.08,356.55 598.59,356.32 599.10,356.10 599.61,355.88 600.12,355.68 600.63,355.48 601.14,355.29 601.65,355.11 602.16,354.94 602.67,354.78 603.18,354.63 603.69,354.48 604.20,354.35 604.71,354.22 605.22,354.10 605.72,353.99 606.23,353.89 606.74,353.80 607.25,353.71 607.76,353.63 608.27,353.56 608.78,353.50 609.29,353.45 609.80,353.40 610.31,353.37 610.82,353.34 611.33,353.32 611.84,353.31 612.35,353.30 612.86,353.31 613.37,353.32 613.88,353.34 614.39,353.37 614.90,353.40 615.41,353.45 615.92,353.50 616.43,353.56 616.94,353.63 617.45,353.71 617.96,353.80 618.47,353.89 618.98,353.99 619.49,354.10 619.99,354.22 620.50,354.35 621.01,354.48 621.52,354.63 622.03,354.78 622.54,354.94 623.05,355.11 623.56,355.29 624.07,355.48 624.58,355.68 625.09,355.88 625.60,356.10 626.11,356.32 626.62,356.55 627.13,356.79 627.64,357.04 628.15,357.30 628.66,357.57 629.17,357.85 629.68,358.14 630.19,358.44 630.70,358.75 631.21,359.07 631.72,359.39 632.23,359.73 632.74,360.08 633.25,360.44 633.75,360.81 634.26,361.19 634.77,361.59 635.28,361.99 635.79,362.40 636.30,362.83 636.81,363.27 637.32,363.72 637.83,364.18 638.34,364.66 638.85,365.14 639.36,365.64 639.87,366.16 640.38,366.69 640.89,367.23 641.40,367.78 641.91,368.36 642.42,368.94 642.93,369.54 643.44,370.16 643.95,370.79 644.46,371.44 644.97,372.11 645.48,372.80 645.99,373.50 646.50,374.22 647.01,374.97 647.52,375.73 648.02,376.51 648.53,377.32 649.04,378.15 649.55,379.01 650.06,379.89 650.57,380.79 651.08,381.73 651.59,382.69 652.10,383.69 652.61,384.72 653.12,385.78 653.63,386.88 654.14,388.03 654.65,389.21 655.16,390.44 655.67,391.73 656.18,393.07 656.69,394.47 657.20,395.93 657.71,397.48 658.22,399.11 658.73,400.83 659.24,402.68 659.75,404.66 660.26,406.80 660.77,409.15 661.28,411.76 661.79,414.76 662.29,418.34 662.80,423.05 663.31,434.50" fill="none" stroke="#0a0a0a" stroke-width="2.35"/>
<g fill="#fff" stroke="#000" stroke-width="0.95"><circle cx="580.40" cy="368.75" r="2.65"/><circle cx="585.00" cy="359.70" r="2.65"/><circle cx="590.00" cy="354.20" r="2.65"/><circle cx="595.00" cy="350.60" r="2.65"/><circle cx="600.00" cy="346.00" r="2.65"/><circle cx="605.00" cy="344.10" r="2.65"/><circle cx="610.00" cy="343.50" r="2.65"/><circle cx="615.00" cy="343.00" r="2.65"/><circle cx="620.25" cy="345.00" r="2.65"/><circle cx="625.60" cy="346.90" r="2.65"/><circle cx="630.60" cy="351.40" r="2.65"/><circle cx="635.60" cy="354.90" r="2.65"/><circle cx="640.60" cy="360.80" r="2.65"/><circle cx="645.60" cy="369.00" r="2.65"/><circle cx="650.90" cy="379.00" r="2.65"/><circle cx="655.40" cy="389.00" r="2.65"/></g>
<rect x="541.00" y="289.25" width="142.70" height="145.25" fill="none" stroke="#262626" stroke-width="1.3"/>
<text class="r" x="529.40" y="439.80" font-size="15" text-anchor="end" font-weight="normal" fill="#262626" >0.0</text>
<text class="r" x="529.40" y="403.49" font-size="15" text-anchor="end" font-weight="normal" fill="#262626" >0.1</text>
<text class="r" x="529.40" y="367.18" font-size="15" text-anchor="end" font-weight="normal" fill="#262626" >0.2</text>
<text class="r" x="529.40" y="330.86" font-size="15" text-anchor="end" font-weight="normal" fill="#262626" >0.3</text>
<text class="r" x="529.40" y="294.55" font-size="15" text-anchor="end" font-weight="normal" fill="#262626" >0.4</text>
<text class="r" x="561.39" y="456.00" font-size="15" text-anchor="middle" font-weight="normal" fill="#262626" >0.0</text>
<text class="r" x="612.35" y="456.00" font-size="15" text-anchor="middle" font-weight="normal" fill="#262626" >0.5</text>
<text class="r" x="663.31" y="456.00" font-size="15" text-anchor="middle" font-weight="normal" fill="#262626" >1.0</text>
<text class="r" x="598.48" y="474.50" font-size="15.5" fill="#262626">E<tspan font-size="10.8" dy="4.8">raw</tspan></text>
<text class="r" transform="translate(500.00,362.38) rotate(-90)" font-size="15.5" text-anchor="middle" fill="#262626">s<tspan font-size="10.8" dy="4.8">i</tspan></text>
</svg></body></html>
